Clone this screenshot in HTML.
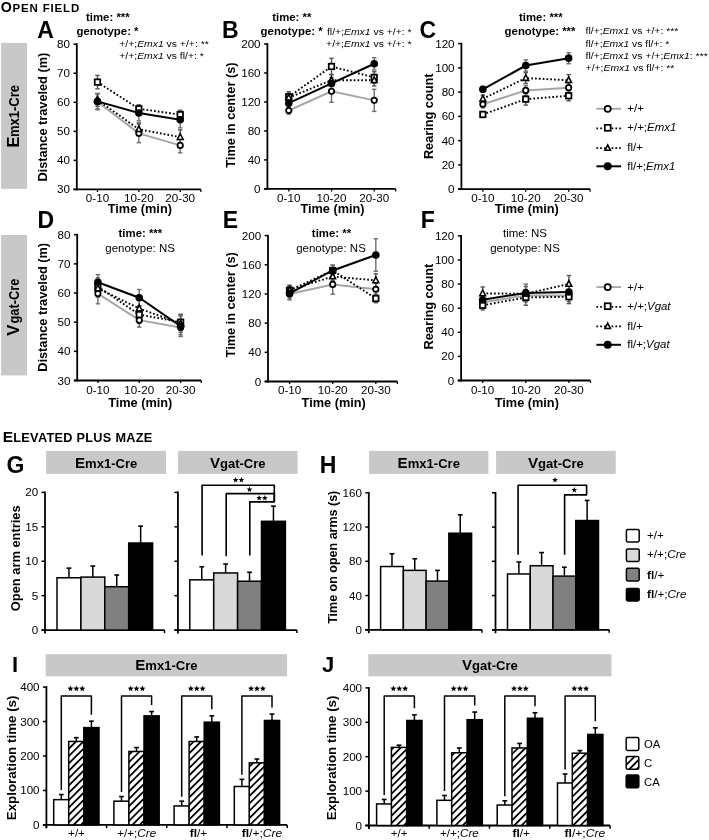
<!DOCTYPE html>
<html><head><meta charset="utf-8"><title>Figure</title>
<style>
html,body{margin:0;padding:0;background:#fff;width:709px;height:840px;overflow:hidden;}
svg{display:block;font-family:"Liberation Sans",sans-serif;}
text{font-family:"Liberation Sans",sans-serif;}
</style></head><body>
<svg width="709" height="840" viewBox="0 0 709 840" font-family="Liberation Sans, sans-serif"><defs><pattern id="hatch" patternUnits="userSpaceOnUse" width="5.2" height="5.2" patternTransform="rotate(45)"><rect width="5.2" height="5.2" fill="#fff"/><line x1="0" y1="0" x2="0" y2="5.2" stroke="#000" stroke-width="3.6"/></pattern><filter id="soft" x="0" y="0" width="1" height="1"><feGaussianBlur stdDeviation="0.35"/></filter></defs><rect width="709" height="840" fill="#fff"/><g filter="url(#soft)"><rect width="709" height="840" fill="#fff"/><text transform="translate(0.73,11.50) scale(1.000,1)" font-weight="bold"><tspan font-size="14.2" letter-spacing="0.82">O</tspan><tspan font-size="11.5" letter-spacing="0.82">PEN FIELD</tspan></text>
<text transform="translate(2.64,442.10) scale(1.000,1)" font-weight="bold"><tspan font-size="15.5" letter-spacing="0.3">E</tspan><tspan font-size="12.7" letter-spacing="0.3">LEVATED PLUS MAZE</tspan></text>
<line x1="76.80" y1="43.30" x2="76.80" y2="190.30" stroke="#000" stroke-width="1.8"/>
<line x1="73.50" y1="189.40" x2="76.80" y2="189.40" stroke="#000" stroke-width="1.5"/>
<text transform="translate(70.00,193.41) scale(1.030,1)" font-size="11.3" text-anchor="end">30</text>
<line x1="73.50" y1="160.36" x2="76.80" y2="160.36" stroke="#000" stroke-width="1.5"/>
<text transform="translate(70.00,164.37) scale(1.030,1)" font-size="11.3" text-anchor="end">40</text>
<line x1="73.50" y1="131.32" x2="76.80" y2="131.32" stroke="#000" stroke-width="1.5"/>
<text transform="translate(70.00,135.33) scale(1.030,1)" font-size="11.3" text-anchor="end">50</text>
<line x1="73.50" y1="102.28" x2="76.80" y2="102.28" stroke="#000" stroke-width="1.5"/>
<text transform="translate(70.00,106.29) scale(1.030,1)" font-size="11.3" text-anchor="end">60</text>
<line x1="73.50" y1="73.24" x2="76.80" y2="73.24" stroke="#000" stroke-width="1.5"/>
<text transform="translate(70.00,77.25) scale(1.030,1)" font-size="11.3" text-anchor="end">70</text>
<line x1="73.50" y1="44.20" x2="76.80" y2="44.20" stroke="#000" stroke-width="1.5"/>
<text transform="translate(70.00,48.21) scale(1.030,1)" font-size="11.3" text-anchor="end">80</text>
<line x1="73.50" y1="189.40" x2="200.90" y2="189.40" stroke="#000" stroke-width="1.8"/>
<line x1="97.48" y1="189.40" x2="97.48" y2="192.00" stroke="#000" stroke-width="1.3"/>
<line x1="138.85" y1="189.40" x2="138.85" y2="192.00" stroke="#000" stroke-width="1.3"/>
<line x1="180.22" y1="189.40" x2="180.22" y2="192.00" stroke="#000" stroke-width="1.3"/>
<line x1="200.90" y1="189.40" x2="200.90" y2="192.00" stroke="#000" stroke-width="1.3"/>
<text transform="translate(97.48,201.70) scale(1.030,1)" font-size="11.3" text-anchor="middle">0-10</text>
<text transform="translate(138.85,201.70) scale(1.030,1)" font-size="11.3" text-anchor="middle">10-20</text>
<text transform="translate(180.22,201.70) scale(1.030,1)" font-size="11.3" text-anchor="middle">20-30</text>
<text transform="translate(139.85,213.40) scale(1.020,1)" font-size="12.5" font-weight="bold" text-anchor="middle">Time (min)</text>
<text transform="translate(46.70,117.20) rotate(-90) scale(1.020,1)" font-size="12.5" font-weight="bold" text-anchor="middle">Distance traveled (m)</text>
<line x1="97.48" y1="93.57" x2="97.48" y2="109.83" stroke="#6e6e6e" stroke-width="1.4"/>
<line x1="95.28" y1="93.57" x2="99.68" y2="93.57" stroke="#6e6e6e" stroke-width="1.4"/>
<line x1="95.28" y1="109.83" x2="99.68" y2="109.83" stroke="#6e6e6e" stroke-width="1.4"/>
<line x1="138.85" y1="124.06" x2="138.85" y2="142.65" stroke="#6e6e6e" stroke-width="1.4"/>
<line x1="136.65" y1="124.06" x2="141.05" y2="124.06" stroke="#6e6e6e" stroke-width="1.4"/>
<line x1="136.65" y1="142.65" x2="141.05" y2="142.65" stroke="#6e6e6e" stroke-width="1.4"/>
<line x1="180.22" y1="138.00" x2="180.22" y2="152.81" stroke="#6e6e6e" stroke-width="1.4"/>
<line x1="178.02" y1="138.00" x2="182.42" y2="138.00" stroke="#6e6e6e" stroke-width="1.4"/>
<line x1="178.02" y1="152.81" x2="182.42" y2="152.81" stroke="#6e6e6e" stroke-width="1.4"/>
<line x1="97.48" y1="75.42" x2="97.48" y2="88.78" stroke="#555" stroke-width="1.4"/>
<line x1="95.28" y1="75.42" x2="99.68" y2="75.42" stroke="#555" stroke-width="1.4"/>
<line x1="95.28" y1="88.78" x2="99.68" y2="88.78" stroke="#555" stroke-width="1.4"/>
<line x1="138.85" y1="104.75" x2="138.85" y2="112.88" stroke="#555" stroke-width="1.4"/>
<line x1="136.65" y1="104.75" x2="141.05" y2="104.75" stroke="#555" stroke-width="1.4"/>
<line x1="136.65" y1="112.88" x2="141.05" y2="112.88" stroke="#555" stroke-width="1.4"/>
<line x1="180.22" y1="110.27" x2="180.22" y2="118.98" stroke="#555" stroke-width="1.4"/>
<line x1="178.02" y1="110.27" x2="182.42" y2="110.27" stroke="#555" stroke-width="1.4"/>
<line x1="178.02" y1="118.98" x2="182.42" y2="118.98" stroke="#555" stroke-width="1.4"/>
<line x1="97.48" y1="93.57" x2="97.48" y2="106.35" stroke="#555" stroke-width="1.4"/>
<line x1="95.28" y1="93.57" x2="99.68" y2="93.57" stroke="#555" stroke-width="1.4"/>
<line x1="95.28" y1="106.35" x2="99.68" y2="106.35" stroke="#555" stroke-width="1.4"/>
<line x1="138.85" y1="122.90" x2="138.85" y2="135.68" stroke="#555" stroke-width="1.4"/>
<line x1="136.65" y1="122.90" x2="141.05" y2="122.90" stroke="#555" stroke-width="1.4"/>
<line x1="136.65" y1="135.68" x2="141.05" y2="135.68" stroke="#555" stroke-width="1.4"/>
<line x1="180.22" y1="129.87" x2="180.22" y2="144.39" stroke="#555" stroke-width="1.4"/>
<line x1="178.02" y1="129.87" x2="182.42" y2="129.87" stroke="#555" stroke-width="1.4"/>
<line x1="178.02" y1="144.39" x2="182.42" y2="144.39" stroke="#555" stroke-width="1.4"/>
<line x1="97.48" y1="93.86" x2="97.48" y2="108.96" stroke="#6e6e6e" stroke-width="1.4"/>
<line x1="95.28" y1="93.86" x2="99.68" y2="93.86" stroke="#6e6e6e" stroke-width="1.4"/>
<line x1="95.28" y1="108.96" x2="99.68" y2="108.96" stroke="#6e6e6e" stroke-width="1.4"/>
<line x1="138.85" y1="105.18" x2="138.85" y2="120.87" stroke="#6e6e6e" stroke-width="1.4"/>
<line x1="136.65" y1="105.18" x2="141.05" y2="105.18" stroke="#6e6e6e" stroke-width="1.4"/>
<line x1="136.65" y1="120.87" x2="141.05" y2="120.87" stroke="#6e6e6e" stroke-width="1.4"/>
<line x1="180.22" y1="111.57" x2="180.22" y2="127.84" stroke="#6e6e6e" stroke-width="1.4"/>
<line x1="178.02" y1="111.57" x2="182.42" y2="111.57" stroke="#6e6e6e" stroke-width="1.4"/>
<line x1="178.02" y1="127.84" x2="182.42" y2="127.84" stroke="#6e6e6e" stroke-width="1.4"/>
<path d="M97.48,101.70 L138.85,133.35 L180.22,145.40" stroke="#a6a6a6" stroke-width="2.0" fill="none"/>
<path d="M97.48,82.10 L138.85,108.81 L180.22,114.62" stroke="#000" stroke-width="1.9" fill="none" stroke-dasharray="1.7,2.1"/>
<path d="M97.48,99.96 L138.85,129.29 L180.22,137.13" stroke="#000" stroke-width="1.9" fill="none" stroke-dasharray="1.7,2.1"/>
<path d="M97.48,101.41 L138.85,113.02 L180.22,119.70" stroke="#000" stroke-width="2.0" fill="none"/>
<circle cx="97.48" cy="101.70" r="2.70" fill="#fff" stroke="#000" stroke-width="1.75"/>
<circle cx="138.85" cy="133.35" r="2.70" fill="#fff" stroke="#000" stroke-width="1.75"/>
<circle cx="180.22" cy="145.40" r="2.70" fill="#fff" stroke="#000" stroke-width="1.75"/>
<rect x="94.73" y="79.35" width="5.50" height="5.50" fill="#fff" stroke="#000" stroke-width="1.75"/>
<rect x="136.10" y="106.06" width="5.50" height="5.50" fill="#fff" stroke="#000" stroke-width="1.75"/>
<rect x="177.47" y="111.87" width="5.50" height="5.50" fill="#fff" stroke="#000" stroke-width="1.75"/>
<path d="M97.48,96.56 L100.38,102.26 L94.58,102.26 Z" fill="#fff" stroke="#000" stroke-width="1.55" stroke-linejoin="miter"/>
<path d="M138.85,125.89 L141.75,131.59 L135.95,131.59 Z" fill="#fff" stroke="#000" stroke-width="1.55" stroke-linejoin="miter"/>
<path d="M180.22,133.73 L183.12,139.43 L177.32,139.43 Z" fill="#fff" stroke="#000" stroke-width="1.55" stroke-linejoin="miter"/>
<circle cx="97.48" cy="101.41" r="3.80" fill="#000"/>
<circle cx="138.85" cy="113.02" r="3.80" fill="#000"/>
<circle cx="180.22" cy="119.70" r="3.80" fill="#000"/>
<line x1="267.40" y1="43.10" x2="267.40" y2="189.80" stroke="#000" stroke-width="1.8"/>
<line x1="264.10" y1="188.90" x2="267.40" y2="188.90" stroke="#000" stroke-width="1.5"/>
<text transform="translate(260.60,192.91) scale(1.030,1)" font-size="11.3" text-anchor="end">0</text>
<line x1="264.10" y1="159.92" x2="267.40" y2="159.92" stroke="#000" stroke-width="1.5"/>
<text transform="translate(260.60,163.93) scale(1.030,1)" font-size="11.3" text-anchor="end">40</text>
<line x1="264.10" y1="130.94" x2="267.40" y2="130.94" stroke="#000" stroke-width="1.5"/>
<text transform="translate(260.60,134.95) scale(1.030,1)" font-size="11.3" text-anchor="end">80</text>
<line x1="264.10" y1="101.96" x2="267.40" y2="101.96" stroke="#000" stroke-width="1.5"/>
<text transform="translate(260.60,105.97) scale(1.030,1)" font-size="11.3" text-anchor="end">120</text>
<line x1="264.10" y1="72.98" x2="267.40" y2="72.98" stroke="#000" stroke-width="1.5"/>
<text transform="translate(260.60,76.99) scale(1.030,1)" font-size="11.3" text-anchor="end">160</text>
<line x1="264.10" y1="44.00" x2="267.40" y2="44.00" stroke="#000" stroke-width="1.5"/>
<text transform="translate(260.60,48.01) scale(1.030,1)" font-size="11.3" text-anchor="end">200</text>
<line x1="264.10" y1="188.90" x2="395.60" y2="188.90" stroke="#000" stroke-width="1.8"/>
<line x1="288.77" y1="188.90" x2="288.77" y2="191.50" stroke="#000" stroke-width="1.3"/>
<line x1="331.50" y1="188.90" x2="331.50" y2="191.50" stroke="#000" stroke-width="1.3"/>
<line x1="374.23" y1="188.90" x2="374.23" y2="191.50" stroke="#000" stroke-width="1.3"/>
<line x1="395.60" y1="188.90" x2="395.60" y2="191.50" stroke="#000" stroke-width="1.3"/>
<text transform="translate(288.77,201.70) scale(1.030,1)" font-size="11.3" text-anchor="middle">0-10</text>
<text transform="translate(331.50,201.70) scale(1.030,1)" font-size="11.3" text-anchor="middle">10-20</text>
<text transform="translate(374.23,201.70) scale(1.030,1)" font-size="11.3" text-anchor="middle">20-30</text>
<text transform="translate(332.50,213.40) scale(1.020,1)" font-size="12.5" font-weight="bold" text-anchor="middle">Time (min)</text>
<text transform="translate(235.10,115.10) rotate(-90) scale(1.020,1)" font-size="12.5" font-weight="bold" text-anchor="middle">Time in center (s)</text>
<line x1="288.77" y1="106.89" x2="288.77" y2="114.13" stroke="#6e6e6e" stroke-width="1.4"/>
<line x1="286.57" y1="106.89" x2="290.97" y2="106.89" stroke="#6e6e6e" stroke-width="1.4"/>
<line x1="286.57" y1="114.13" x2="290.97" y2="114.13" stroke="#6e6e6e" stroke-width="1.4"/>
<line x1="331.50" y1="80.30" x2="331.50" y2="102.32" stroke="#6e6e6e" stroke-width="1.4"/>
<line x1="329.30" y1="80.30" x2="333.70" y2="80.30" stroke="#6e6e6e" stroke-width="1.4"/>
<line x1="329.30" y1="102.32" x2="333.70" y2="102.32" stroke="#6e6e6e" stroke-width="1.4"/>
<line x1="374.23" y1="89.35" x2="374.23" y2="111.38" stroke="#6e6e6e" stroke-width="1.4"/>
<line x1="372.03" y1="89.35" x2="376.43" y2="89.35" stroke="#6e6e6e" stroke-width="1.4"/>
<line x1="372.03" y1="111.38" x2="376.43" y2="111.38" stroke="#6e6e6e" stroke-width="1.4"/>
<line x1="288.77" y1="91.74" x2="288.77" y2="101.89" stroke="#555" stroke-width="1.4"/>
<line x1="286.57" y1="91.74" x2="290.97" y2="91.74" stroke="#555" stroke-width="1.4"/>
<line x1="286.57" y1="101.89" x2="290.97" y2="101.89" stroke="#555" stroke-width="1.4"/>
<line x1="331.50" y1="58.27" x2="331.50" y2="74.65" stroke="#555" stroke-width="1.4"/>
<line x1="329.30" y1="58.27" x2="333.70" y2="58.27" stroke="#555" stroke-width="1.4"/>
<line x1="329.30" y1="74.65" x2="333.70" y2="74.65" stroke="#555" stroke-width="1.4"/>
<line x1="374.23" y1="71.68" x2="374.23" y2="83.27" stroke="#555" stroke-width="1.4"/>
<line x1="372.03" y1="71.68" x2="376.43" y2="71.68" stroke="#555" stroke-width="1.4"/>
<line x1="372.03" y1="83.27" x2="376.43" y2="83.27" stroke="#555" stroke-width="1.4"/>
<line x1="288.77" y1="93.34" x2="288.77" y2="102.03" stroke="#555" stroke-width="1.4"/>
<line x1="286.57" y1="93.34" x2="290.97" y2="93.34" stroke="#555" stroke-width="1.4"/>
<line x1="286.57" y1="102.03" x2="290.97" y2="102.03" stroke="#555" stroke-width="1.4"/>
<line x1="331.50" y1="74.43" x2="331.50" y2="86.02" stroke="#555" stroke-width="1.4"/>
<line x1="329.30" y1="74.43" x2="333.70" y2="74.43" stroke="#555" stroke-width="1.4"/>
<line x1="329.30" y1="86.02" x2="333.70" y2="86.02" stroke="#555" stroke-width="1.4"/>
<line x1="374.23" y1="74.43" x2="374.23" y2="86.02" stroke="#555" stroke-width="1.4"/>
<line x1="372.03" y1="74.43" x2="376.43" y2="74.43" stroke="#555" stroke-width="1.4"/>
<line x1="372.03" y1="86.02" x2="376.43" y2="86.02" stroke="#555" stroke-width="1.4"/>
<line x1="288.77" y1="98.84" x2="288.77" y2="107.54" stroke="#6e6e6e" stroke-width="1.4"/>
<line x1="286.57" y1="98.84" x2="290.97" y2="98.84" stroke="#6e6e6e" stroke-width="1.4"/>
<line x1="286.57" y1="107.54" x2="290.97" y2="107.54" stroke="#6e6e6e" stroke-width="1.4"/>
<line x1="331.50" y1="77.62" x2="331.50" y2="89.21" stroke="#6e6e6e" stroke-width="1.4"/>
<line x1="329.30" y1="77.62" x2="333.70" y2="77.62" stroke="#6e6e6e" stroke-width="1.4"/>
<line x1="329.30" y1="89.21" x2="333.70" y2="89.21" stroke="#6e6e6e" stroke-width="1.4"/>
<line x1="374.23" y1="57.69" x2="374.23" y2="69.86" stroke="#6e6e6e" stroke-width="1.4"/>
<line x1="372.03" y1="57.69" x2="376.43" y2="57.69" stroke="#6e6e6e" stroke-width="1.4"/>
<line x1="372.03" y1="69.86" x2="376.43" y2="69.86" stroke="#6e6e6e" stroke-width="1.4"/>
<path d="M288.77,110.51 L331.50,91.31 L374.23,100.37" stroke="#a6a6a6" stroke-width="2.0" fill="none"/>
<path d="M288.77,96.82 L331.50,66.46 L374.23,77.47" stroke="#000" stroke-width="1.9" fill="none" stroke-dasharray="1.7,2.1"/>
<path d="M288.77,97.69 L331.50,80.22 L374.23,80.22" stroke="#000" stroke-width="1.9" fill="none" stroke-dasharray="1.7,2.1"/>
<path d="M288.77,103.19 L331.50,83.41 L374.23,63.78" stroke="#000" stroke-width="2.0" fill="none"/>
<circle cx="288.77" cy="110.51" r="2.70" fill="#fff" stroke="#000" stroke-width="1.75"/>
<circle cx="331.50" cy="91.31" r="2.70" fill="#fff" stroke="#000" stroke-width="1.75"/>
<circle cx="374.23" cy="100.37" r="2.70" fill="#fff" stroke="#000" stroke-width="1.75"/>
<rect x="286.02" y="94.07" width="5.50" height="5.50" fill="#fff" stroke="#000" stroke-width="1.75"/>
<rect x="328.75" y="63.71" width="5.50" height="5.50" fill="#fff" stroke="#000" stroke-width="1.75"/>
<rect x="371.48" y="74.72" width="5.50" height="5.50" fill="#fff" stroke="#000" stroke-width="1.75"/>
<path d="M288.77,94.29 L291.67,99.99 L285.87,99.99 Z" fill="#fff" stroke="#000" stroke-width="1.55" stroke-linejoin="miter"/>
<path d="M331.50,76.82 L334.40,82.52 L328.60,82.52 Z" fill="#fff" stroke="#000" stroke-width="1.55" stroke-linejoin="miter"/>
<path d="M374.23,76.82 L377.13,82.52 L371.33,82.52 Z" fill="#fff" stroke="#000" stroke-width="1.55" stroke-linejoin="miter"/>
<circle cx="288.77" cy="103.19" r="3.80" fill="#000"/>
<circle cx="331.50" cy="83.41" r="3.80" fill="#000"/>
<circle cx="374.23" cy="63.78" r="3.80" fill="#000"/>
<line x1="461.40" y1="42.70" x2="461.40" y2="190.10" stroke="#000" stroke-width="1.8"/>
<line x1="458.10" y1="189.20" x2="461.40" y2="189.20" stroke="#000" stroke-width="1.5"/>
<text transform="translate(454.60,193.21) scale(1.030,1)" font-size="11.3" text-anchor="end">0</text>
<line x1="458.10" y1="164.93" x2="461.40" y2="164.93" stroke="#000" stroke-width="1.5"/>
<text transform="translate(454.60,168.94) scale(1.030,1)" font-size="11.3" text-anchor="end">20</text>
<line x1="458.10" y1="140.67" x2="461.40" y2="140.67" stroke="#000" stroke-width="1.5"/>
<text transform="translate(454.60,144.68) scale(1.030,1)" font-size="11.3" text-anchor="end">40</text>
<line x1="458.10" y1="116.40" x2="461.40" y2="116.40" stroke="#000" stroke-width="1.5"/>
<text transform="translate(454.60,120.41) scale(1.030,1)" font-size="11.3" text-anchor="end">60</text>
<line x1="458.10" y1="92.13" x2="461.40" y2="92.13" stroke="#000" stroke-width="1.5"/>
<text transform="translate(454.60,96.14) scale(1.030,1)" font-size="11.3" text-anchor="end">80</text>
<line x1="458.10" y1="67.87" x2="461.40" y2="67.87" stroke="#000" stroke-width="1.5"/>
<text transform="translate(454.60,71.88) scale(1.030,1)" font-size="11.3" text-anchor="end">100</text>
<line x1="458.10" y1="43.60" x2="461.40" y2="43.60" stroke="#000" stroke-width="1.5"/>
<text transform="translate(454.60,47.61) scale(1.030,1)" font-size="11.3" text-anchor="end">120</text>
<line x1="458.10" y1="189.20" x2="590.10" y2="189.20" stroke="#000" stroke-width="1.8"/>
<line x1="482.85" y1="189.20" x2="482.85" y2="191.80" stroke="#000" stroke-width="1.3"/>
<line x1="525.75" y1="189.20" x2="525.75" y2="191.80" stroke="#000" stroke-width="1.3"/>
<line x1="568.65" y1="189.20" x2="568.65" y2="191.80" stroke="#000" stroke-width="1.3"/>
<line x1="590.10" y1="189.20" x2="590.10" y2="191.80" stroke="#000" stroke-width="1.3"/>
<text transform="translate(482.85,201.70) scale(1.030,1)" font-size="11.3" text-anchor="middle">0-10</text>
<text transform="translate(525.75,201.70) scale(1.030,1)" font-size="11.3" text-anchor="middle">10-20</text>
<text transform="translate(568.65,201.70) scale(1.030,1)" font-size="11.3" text-anchor="middle">20-30</text>
<text transform="translate(526.75,213.40) scale(1.020,1)" font-size="12.5" font-weight="bold" text-anchor="middle">Time (min)</text>
<text transform="translate(432.70,116.30) rotate(-90) scale(1.020,1)" font-size="12.5" font-weight="bold" text-anchor="middle">Rearing count</text>
<line x1="482.85" y1="100.63" x2="482.85" y2="107.91" stroke="#6e6e6e" stroke-width="1.4"/>
<line x1="480.65" y1="100.63" x2="485.05" y2="100.63" stroke="#6e6e6e" stroke-width="1.4"/>
<line x1="480.65" y1="107.91" x2="485.05" y2="107.91" stroke="#6e6e6e" stroke-width="1.4"/>
<line x1="525.75" y1="85.58" x2="525.75" y2="95.29" stroke="#6e6e6e" stroke-width="1.4"/>
<line x1="523.55" y1="85.58" x2="527.95" y2="85.58" stroke="#6e6e6e" stroke-width="1.4"/>
<line x1="523.55" y1="95.29" x2="527.95" y2="95.29" stroke="#6e6e6e" stroke-width="1.4"/>
<line x1="568.65" y1="82.79" x2="568.65" y2="92.50" stroke="#6e6e6e" stroke-width="1.4"/>
<line x1="566.45" y1="82.79" x2="570.85" y2="82.79" stroke="#6e6e6e" stroke-width="1.4"/>
<line x1="566.45" y1="92.50" x2="570.85" y2="92.50" stroke="#6e6e6e" stroke-width="1.4"/>
<line x1="482.85" y1="111.43" x2="482.85" y2="117.49" stroke="#555" stroke-width="1.4"/>
<line x1="480.65" y1="111.43" x2="485.05" y2="111.43" stroke="#555" stroke-width="1.4"/>
<line x1="480.65" y1="117.49" x2="485.05" y2="117.49" stroke="#555" stroke-width="1.4"/>
<line x1="525.75" y1="93.23" x2="525.75" y2="105.12" stroke="#555" stroke-width="1.4"/>
<line x1="523.55" y1="93.23" x2="527.95" y2="93.23" stroke="#555" stroke-width="1.4"/>
<line x1="523.55" y1="105.12" x2="527.95" y2="105.12" stroke="#555" stroke-width="1.4"/>
<line x1="568.65" y1="90.68" x2="568.65" y2="100.87" stroke="#555" stroke-width="1.4"/>
<line x1="566.45" y1="90.68" x2="570.85" y2="90.68" stroke="#555" stroke-width="1.4"/>
<line x1="566.45" y1="100.87" x2="570.85" y2="100.87" stroke="#555" stroke-width="1.4"/>
<line x1="482.85" y1="95.17" x2="482.85" y2="102.45" stroke="#555" stroke-width="1.4"/>
<line x1="480.65" y1="95.17" x2="485.05" y2="95.17" stroke="#555" stroke-width="1.4"/>
<line x1="480.65" y1="102.45" x2="485.05" y2="102.45" stroke="#555" stroke-width="1.4"/>
<line x1="525.75" y1="72.60" x2="525.75" y2="83.52" stroke="#555" stroke-width="1.4"/>
<line x1="523.55" y1="72.60" x2="527.95" y2="72.60" stroke="#555" stroke-width="1.4"/>
<line x1="523.55" y1="83.52" x2="527.95" y2="83.52" stroke="#555" stroke-width="1.4"/>
<line x1="568.65" y1="74.54" x2="568.65" y2="85.95" stroke="#555" stroke-width="1.4"/>
<line x1="566.45" y1="74.54" x2="570.85" y2="74.54" stroke="#555" stroke-width="1.4"/>
<line x1="566.45" y1="85.95" x2="570.85" y2="85.95" stroke="#555" stroke-width="1.4"/>
<line x1="482.85" y1="86.31" x2="482.85" y2="92.38" stroke="#6e6e6e" stroke-width="1.4"/>
<line x1="480.65" y1="86.31" x2="485.05" y2="86.31" stroke="#6e6e6e" stroke-width="1.4"/>
<line x1="480.65" y1="92.38" x2="485.05" y2="92.38" stroke="#6e6e6e" stroke-width="1.4"/>
<line x1="525.75" y1="59.86" x2="525.75" y2="71.26" stroke="#6e6e6e" stroke-width="1.4"/>
<line x1="523.55" y1="59.86" x2="527.95" y2="59.86" stroke="#6e6e6e" stroke-width="1.4"/>
<line x1="523.55" y1="71.26" x2="527.95" y2="71.26" stroke="#6e6e6e" stroke-width="1.4"/>
<line x1="568.65" y1="52.58" x2="568.65" y2="63.74" stroke="#6e6e6e" stroke-width="1.4"/>
<line x1="566.45" y1="52.58" x2="570.85" y2="52.58" stroke="#6e6e6e" stroke-width="1.4"/>
<line x1="566.45" y1="63.74" x2="570.85" y2="63.74" stroke="#6e6e6e" stroke-width="1.4"/>
<path d="M482.85,104.27 L525.75,90.43 L568.65,87.64" stroke="#a6a6a6" stroke-width="2.0" fill="none"/>
<path d="M482.85,114.46 L525.75,99.17 L568.65,95.77" stroke="#000" stroke-width="1.9" fill="none" stroke-dasharray="1.7,2.1"/>
<path d="M482.85,98.81 L525.75,78.06 L568.65,80.24" stroke="#000" stroke-width="1.9" fill="none" stroke-dasharray="1.7,2.1"/>
<path d="M482.85,89.34 L525.75,65.56 L568.65,58.16" stroke="#000" stroke-width="2.0" fill="none"/>
<circle cx="482.85" cy="104.27" r="2.70" fill="#fff" stroke="#000" stroke-width="1.75"/>
<circle cx="525.75" cy="90.43" r="2.70" fill="#fff" stroke="#000" stroke-width="1.75"/>
<circle cx="568.65" cy="87.64" r="2.70" fill="#fff" stroke="#000" stroke-width="1.75"/>
<rect x="480.10" y="111.71" width="5.50" height="5.50" fill="#fff" stroke="#000" stroke-width="1.75"/>
<rect x="523.00" y="96.42" width="5.50" height="5.50" fill="#fff" stroke="#000" stroke-width="1.75"/>
<rect x="565.90" y="93.02" width="5.50" height="5.50" fill="#fff" stroke="#000" stroke-width="1.75"/>
<path d="M482.85,95.41 L485.75,101.11 L479.95,101.11 Z" fill="#fff" stroke="#000" stroke-width="1.55" stroke-linejoin="miter"/>
<path d="M525.75,74.66 L528.65,80.36 L522.85,80.36 Z" fill="#fff" stroke="#000" stroke-width="1.55" stroke-linejoin="miter"/>
<path d="M568.65,76.84 L571.55,82.54 L565.75,82.54 Z" fill="#fff" stroke="#000" stroke-width="1.55" stroke-linejoin="miter"/>
<circle cx="482.85" cy="89.34" r="3.80" fill="#000"/>
<circle cx="525.75" cy="65.56" r="3.80" fill="#000"/>
<circle cx="568.65" cy="58.16" r="3.80" fill="#000"/>
<line x1="77.20" y1="233.80" x2="77.20" y2="381.40" stroke="#000" stroke-width="1.8"/>
<line x1="73.90" y1="380.50" x2="77.20" y2="380.50" stroke="#000" stroke-width="1.5"/>
<text transform="translate(70.40,384.51) scale(1.030,1)" font-size="11.3" text-anchor="end">30</text>
<line x1="73.90" y1="351.34" x2="77.20" y2="351.34" stroke="#000" stroke-width="1.5"/>
<text transform="translate(70.40,355.35) scale(1.030,1)" font-size="11.3" text-anchor="end">40</text>
<line x1="73.90" y1="322.18" x2="77.20" y2="322.18" stroke="#000" stroke-width="1.5"/>
<text transform="translate(70.40,326.19) scale(1.030,1)" font-size="11.3" text-anchor="end">50</text>
<line x1="73.90" y1="293.02" x2="77.20" y2="293.02" stroke="#000" stroke-width="1.5"/>
<text transform="translate(70.40,297.03) scale(1.030,1)" font-size="11.3" text-anchor="end">60</text>
<line x1="73.90" y1="263.86" x2="77.20" y2="263.86" stroke="#000" stroke-width="1.5"/>
<text transform="translate(70.40,267.87) scale(1.030,1)" font-size="11.3" text-anchor="end">70</text>
<line x1="73.90" y1="234.70" x2="77.20" y2="234.70" stroke="#000" stroke-width="1.5"/>
<text transform="translate(70.40,238.71) scale(1.030,1)" font-size="11.3" text-anchor="end">80</text>
<line x1="73.90" y1="380.50" x2="201.30" y2="380.50" stroke="#000" stroke-width="1.8"/>
<line x1="97.88" y1="380.50" x2="97.88" y2="383.10" stroke="#000" stroke-width="1.3"/>
<line x1="139.25" y1="380.50" x2="139.25" y2="383.10" stroke="#000" stroke-width="1.3"/>
<line x1="180.62" y1="380.50" x2="180.62" y2="383.10" stroke="#000" stroke-width="1.3"/>
<line x1="201.30" y1="380.50" x2="201.30" y2="383.10" stroke="#000" stroke-width="1.3"/>
<text transform="translate(97.88,393.80) scale(1.030,1)" font-size="11.3" text-anchor="middle">0-10</text>
<text transform="translate(139.25,393.80) scale(1.030,1)" font-size="11.3" text-anchor="middle">10-20</text>
<text transform="translate(180.62,393.80) scale(1.030,1)" font-size="11.3" text-anchor="middle">20-30</text>
<text transform="translate(140.25,407.10) scale(1.020,1)" font-size="12.5" font-weight="bold" text-anchor="middle">Time (min)</text>
<text transform="translate(47.40,307.30) rotate(-90) scale(1.020,1)" font-size="12.5" font-weight="bold" text-anchor="middle">Distance traveled (m)</text>
<line x1="97.88" y1="283.40" x2="97.88" y2="303.81" stroke="#6e6e6e" stroke-width="1.4"/>
<line x1="95.68" y1="283.40" x2="100.08" y2="283.40" stroke="#6e6e6e" stroke-width="1.4"/>
<line x1="95.68" y1="303.81" x2="100.08" y2="303.81" stroke="#6e6e6e" stroke-width="1.4"/>
<line x1="139.25" y1="313.14" x2="139.25" y2="327.14" stroke="#6e6e6e" stroke-width="1.4"/>
<line x1="137.05" y1="313.14" x2="141.45" y2="313.14" stroke="#6e6e6e" stroke-width="1.4"/>
<line x1="137.05" y1="327.14" x2="141.45" y2="327.14" stroke="#6e6e6e" stroke-width="1.4"/>
<line x1="180.62" y1="320.14" x2="180.62" y2="334.72" stroke="#6e6e6e" stroke-width="1.4"/>
<line x1="178.42" y1="320.14" x2="182.82" y2="320.14" stroke="#6e6e6e" stroke-width="1.4"/>
<line x1="178.42" y1="334.72" x2="182.82" y2="334.72" stroke="#6e6e6e" stroke-width="1.4"/>
<line x1="97.88" y1="277.86" x2="97.88" y2="295.35" stroke="#555" stroke-width="1.4"/>
<line x1="95.68" y1="277.86" x2="100.08" y2="277.86" stroke="#555" stroke-width="1.4"/>
<line x1="95.68" y1="295.35" x2="100.08" y2="295.35" stroke="#555" stroke-width="1.4"/>
<line x1="139.25" y1="305.85" x2="139.25" y2="323.35" stroke="#555" stroke-width="1.4"/>
<line x1="137.05" y1="305.85" x2="141.45" y2="305.85" stroke="#555" stroke-width="1.4"/>
<line x1="137.05" y1="323.35" x2="141.45" y2="323.35" stroke="#555" stroke-width="1.4"/>
<line x1="180.62" y1="314.31" x2="180.62" y2="330.05" stroke="#555" stroke-width="1.4"/>
<line x1="178.42" y1="314.31" x2="182.82" y2="314.31" stroke="#555" stroke-width="1.4"/>
<line x1="178.42" y1="330.05" x2="182.82" y2="330.05" stroke="#555" stroke-width="1.4"/>
<line x1="97.88" y1="279.61" x2="97.88" y2="297.10" stroke="#555" stroke-width="1.4"/>
<line x1="95.68" y1="279.61" x2="100.08" y2="279.61" stroke="#555" stroke-width="1.4"/>
<line x1="95.68" y1="297.10" x2="100.08" y2="297.10" stroke="#555" stroke-width="1.4"/>
<line x1="139.25" y1="299.73" x2="139.25" y2="317.22" stroke="#555" stroke-width="1.4"/>
<line x1="137.05" y1="299.73" x2="141.45" y2="299.73" stroke="#555" stroke-width="1.4"/>
<line x1="137.05" y1="317.22" x2="141.45" y2="317.22" stroke="#555" stroke-width="1.4"/>
<line x1="180.62" y1="314.89" x2="180.62" y2="332.39" stroke="#555" stroke-width="1.4"/>
<line x1="178.42" y1="314.89" x2="182.82" y2="314.89" stroke="#555" stroke-width="1.4"/>
<line x1="178.42" y1="332.39" x2="182.82" y2="332.39" stroke="#555" stroke-width="1.4"/>
<line x1="97.88" y1="274.65" x2="97.88" y2="289.81" stroke="#6e6e6e" stroke-width="1.4"/>
<line x1="95.68" y1="274.65" x2="100.08" y2="274.65" stroke="#6e6e6e" stroke-width="1.4"/>
<line x1="95.68" y1="289.81" x2="100.08" y2="289.81" stroke="#6e6e6e" stroke-width="1.4"/>
<line x1="139.25" y1="289.52" x2="139.25" y2="305.85" stroke="#6e6e6e" stroke-width="1.4"/>
<line x1="137.05" y1="289.52" x2="141.45" y2="289.52" stroke="#6e6e6e" stroke-width="1.4"/>
<line x1="137.05" y1="305.85" x2="141.45" y2="305.85" stroke="#6e6e6e" stroke-width="1.4"/>
<line x1="180.62" y1="316.06" x2="180.62" y2="336.47" stroke="#6e6e6e" stroke-width="1.4"/>
<line x1="178.42" y1="316.06" x2="182.82" y2="316.06" stroke="#6e6e6e" stroke-width="1.4"/>
<line x1="178.42" y1="336.47" x2="182.82" y2="336.47" stroke="#6e6e6e" stroke-width="1.4"/>
<path d="M97.88,293.60 L139.25,320.14 L180.62,327.43" stroke="#a6a6a6" stroke-width="2.0" fill="none"/>
<path d="M97.88,286.60 L139.25,314.60 L180.62,322.18" stroke="#000" stroke-width="1.9" fill="none" stroke-dasharray="1.7,2.1"/>
<path d="M97.88,288.35 L139.25,308.47 L180.62,323.64" stroke="#000" stroke-width="1.9" fill="none" stroke-dasharray="1.7,2.1"/>
<path d="M97.88,282.23 L139.25,297.69 L180.62,326.26" stroke="#000" stroke-width="2.0" fill="none"/>
<circle cx="97.88" cy="293.60" r="2.70" fill="#fff" stroke="#000" stroke-width="1.75"/>
<circle cx="139.25" cy="320.14" r="2.70" fill="#fff" stroke="#000" stroke-width="1.75"/>
<circle cx="180.62" cy="327.43" r="2.70" fill="#fff" stroke="#000" stroke-width="1.75"/>
<rect x="95.13" y="283.85" width="5.50" height="5.50" fill="#fff" stroke="#000" stroke-width="1.75"/>
<rect x="136.50" y="311.85" width="5.50" height="5.50" fill="#fff" stroke="#000" stroke-width="1.75"/>
<rect x="177.87" y="319.43" width="5.50" height="5.50" fill="#fff" stroke="#000" stroke-width="1.75"/>
<path d="M97.88,284.95 L100.78,290.65 L94.98,290.65 Z" fill="#fff" stroke="#000" stroke-width="1.55" stroke-linejoin="miter"/>
<path d="M139.25,305.07 L142.15,310.77 L136.35,310.77 Z" fill="#fff" stroke="#000" stroke-width="1.55" stroke-linejoin="miter"/>
<path d="M180.62,320.24 L183.52,325.94 L177.72,325.94 Z" fill="#fff" stroke="#000" stroke-width="1.55" stroke-linejoin="miter"/>
<circle cx="97.88" cy="282.23" r="3.80" fill="#000"/>
<circle cx="139.25" cy="297.69" r="3.80" fill="#000"/>
<circle cx="180.62" cy="326.26" r="3.80" fill="#000"/>
<line x1="268.00" y1="234.70" x2="268.00" y2="382.40" stroke="#000" stroke-width="1.8"/>
<line x1="264.70" y1="381.50" x2="268.00" y2="381.50" stroke="#000" stroke-width="1.5"/>
<text transform="translate(261.20,385.51) scale(1.030,1)" font-size="11.3" text-anchor="end">0</text>
<line x1="264.70" y1="352.32" x2="268.00" y2="352.32" stroke="#000" stroke-width="1.5"/>
<text transform="translate(261.20,356.33) scale(1.030,1)" font-size="11.3" text-anchor="end">40</text>
<line x1="264.70" y1="323.14" x2="268.00" y2="323.14" stroke="#000" stroke-width="1.5"/>
<text transform="translate(261.20,327.15) scale(1.030,1)" font-size="11.3" text-anchor="end">80</text>
<line x1="264.70" y1="293.96" x2="268.00" y2="293.96" stroke="#000" stroke-width="1.5"/>
<text transform="translate(261.20,297.97) scale(1.030,1)" font-size="11.3" text-anchor="end">120</text>
<line x1="264.70" y1="264.78" x2="268.00" y2="264.78" stroke="#000" stroke-width="1.5"/>
<text transform="translate(261.20,268.79) scale(1.030,1)" font-size="11.3" text-anchor="end">160</text>
<line x1="264.70" y1="235.60" x2="268.00" y2="235.60" stroke="#000" stroke-width="1.5"/>
<text transform="translate(261.20,239.61) scale(1.030,1)" font-size="11.3" text-anchor="end">200</text>
<line x1="264.70" y1="381.50" x2="397.40" y2="381.50" stroke="#000" stroke-width="1.8"/>
<line x1="289.57" y1="381.50" x2="289.57" y2="384.10" stroke="#000" stroke-width="1.3"/>
<line x1="332.70" y1="381.50" x2="332.70" y2="384.10" stroke="#000" stroke-width="1.3"/>
<line x1="375.83" y1="381.50" x2="375.83" y2="384.10" stroke="#000" stroke-width="1.3"/>
<line x1="397.40" y1="381.50" x2="397.40" y2="384.10" stroke="#000" stroke-width="1.3"/>
<text transform="translate(289.57,393.80) scale(1.030,1)" font-size="11.3" text-anchor="middle">0-10</text>
<text transform="translate(332.70,393.80) scale(1.030,1)" font-size="11.3" text-anchor="middle">10-20</text>
<text transform="translate(375.83,393.80) scale(1.030,1)" font-size="11.3" text-anchor="middle">20-30</text>
<text transform="translate(333.70,407.10) scale(1.020,1)" font-size="12.5" font-weight="bold" text-anchor="middle">Time (min)</text>
<text transform="translate(235.10,304.80) rotate(-90) scale(1.020,1)" font-size="12.5" font-weight="bold" text-anchor="middle">Time in center (s)</text>
<line x1="289.57" y1="289.58" x2="289.57" y2="298.34" stroke="#6e6e6e" stroke-width="1.4"/>
<line x1="287.37" y1="289.58" x2="291.77" y2="289.58" stroke="#6e6e6e" stroke-width="1.4"/>
<line x1="287.37" y1="298.34" x2="291.77" y2="298.34" stroke="#6e6e6e" stroke-width="1.4"/>
<line x1="332.70" y1="274.63" x2="332.70" y2="294.18" stroke="#6e6e6e" stroke-width="1.4"/>
<line x1="330.50" y1="274.63" x2="334.90" y2="274.63" stroke="#6e6e6e" stroke-width="1.4"/>
<line x1="330.50" y1="294.18" x2="334.90" y2="294.18" stroke="#6e6e6e" stroke-width="1.4"/>
<line x1="375.83" y1="283.38" x2="375.83" y2="295.05" stroke="#6e6e6e" stroke-width="1.4"/>
<line x1="373.63" y1="283.38" x2="378.03" y2="283.38" stroke="#6e6e6e" stroke-width="1.4"/>
<line x1="373.63" y1="295.05" x2="378.03" y2="295.05" stroke="#6e6e6e" stroke-width="1.4"/>
<line x1="289.57" y1="285.21" x2="289.57" y2="295.42" stroke="#555" stroke-width="1.4"/>
<line x1="287.37" y1="285.21" x2="291.77" y2="285.21" stroke="#555" stroke-width="1.4"/>
<line x1="287.37" y1="295.42" x2="291.77" y2="295.42" stroke="#555" stroke-width="1.4"/>
<line x1="332.70" y1="265.36" x2="332.70" y2="275.58" stroke="#555" stroke-width="1.4"/>
<line x1="330.50" y1="265.36" x2="334.90" y2="265.36" stroke="#555" stroke-width="1.4"/>
<line x1="330.50" y1="275.58" x2="334.90" y2="275.58" stroke="#555" stroke-width="1.4"/>
<line x1="375.83" y1="294.25" x2="375.83" y2="302.71" stroke="#555" stroke-width="1.4"/>
<line x1="373.63" y1="294.25" x2="378.03" y2="294.25" stroke="#555" stroke-width="1.4"/>
<line x1="373.63" y1="302.71" x2="378.03" y2="302.71" stroke="#555" stroke-width="1.4"/>
<line x1="289.57" y1="285.64" x2="289.57" y2="294.40" stroke="#555" stroke-width="1.4"/>
<line x1="287.37" y1="285.64" x2="291.77" y2="285.64" stroke="#555" stroke-width="1.4"/>
<line x1="287.37" y1="294.40" x2="291.77" y2="294.40" stroke="#555" stroke-width="1.4"/>
<line x1="332.70" y1="272.15" x2="332.70" y2="280.90" stroke="#555" stroke-width="1.4"/>
<line x1="330.50" y1="272.15" x2="334.90" y2="272.15" stroke="#555" stroke-width="1.4"/>
<line x1="330.50" y1="280.90" x2="334.90" y2="280.90" stroke="#555" stroke-width="1.4"/>
<line x1="375.83" y1="273.83" x2="375.83" y2="286.96" stroke="#555" stroke-width="1.4"/>
<line x1="373.63" y1="273.83" x2="378.03" y2="273.83" stroke="#555" stroke-width="1.4"/>
<line x1="373.63" y1="286.96" x2="378.03" y2="286.96" stroke="#555" stroke-width="1.4"/>
<line x1="289.57" y1="286.81" x2="289.57" y2="299.94" stroke="#6e6e6e" stroke-width="1.4"/>
<line x1="287.37" y1="286.81" x2="291.77" y2="286.81" stroke="#6e6e6e" stroke-width="1.4"/>
<line x1="287.37" y1="299.94" x2="291.77" y2="299.94" stroke="#6e6e6e" stroke-width="1.4"/>
<line x1="332.70" y1="265.07" x2="332.70" y2="275.87" stroke="#6e6e6e" stroke-width="1.4"/>
<line x1="330.50" y1="265.07" x2="334.90" y2="265.07" stroke="#6e6e6e" stroke-width="1.4"/>
<line x1="330.50" y1="275.87" x2="334.90" y2="275.87" stroke="#6e6e6e" stroke-width="1.4"/>
<line x1="375.83" y1="238.74" x2="375.83" y2="271.27" stroke="#6e6e6e" stroke-width="1.4"/>
<line x1="373.63" y1="238.74" x2="378.03" y2="238.74" stroke="#6e6e6e" stroke-width="1.4"/>
<line x1="373.63" y1="271.27" x2="378.03" y2="271.27" stroke="#6e6e6e" stroke-width="1.4"/>
<path d="M289.57,293.96 L332.70,284.40 L375.83,289.22" stroke="#a6a6a6" stroke-width="2.0" fill="none"/>
<path d="M289.57,290.31 L332.70,270.47 L375.83,298.48" stroke="#000" stroke-width="1.9" fill="none" stroke-dasharray="1.7,2.1"/>
<path d="M289.57,290.02 L332.70,276.52 L375.83,280.39" stroke="#000" stroke-width="1.9" fill="none" stroke-dasharray="1.7,2.1"/>
<path d="M289.57,293.38 L332.70,270.47 L375.83,255.00" stroke="#000" stroke-width="2.0" fill="none"/>
<circle cx="289.57" cy="293.96" r="2.70" fill="#fff" stroke="#000" stroke-width="1.75"/>
<circle cx="332.70" cy="284.40" r="2.70" fill="#fff" stroke="#000" stroke-width="1.75"/>
<circle cx="375.83" cy="289.22" r="2.70" fill="#fff" stroke="#000" stroke-width="1.75"/>
<rect x="286.82" y="287.56" width="5.50" height="5.50" fill="#fff" stroke="#000" stroke-width="1.75"/>
<rect x="329.95" y="267.72" width="5.50" height="5.50" fill="#fff" stroke="#000" stroke-width="1.75"/>
<rect x="373.08" y="295.73" width="5.50" height="5.50" fill="#fff" stroke="#000" stroke-width="1.75"/>
<path d="M289.57,286.62 L292.47,292.32 L286.67,292.32 Z" fill="#fff" stroke="#000" stroke-width="1.55" stroke-linejoin="miter"/>
<path d="M332.70,273.12 L335.60,278.82 L329.80,278.82 Z" fill="#fff" stroke="#000" stroke-width="1.55" stroke-linejoin="miter"/>
<path d="M375.83,276.99 L378.73,282.69 L372.93,282.69 Z" fill="#fff" stroke="#000" stroke-width="1.55" stroke-linejoin="miter"/>
<circle cx="289.57" cy="293.38" r="3.80" fill="#000"/>
<circle cx="332.70" cy="270.47" r="3.80" fill="#000"/>
<circle cx="375.83" cy="255.00" r="3.80" fill="#000"/>
<line x1="461.10" y1="235.00" x2="461.10" y2="381.40" stroke="#000" stroke-width="1.8"/>
<line x1="457.80" y1="380.50" x2="461.10" y2="380.50" stroke="#000" stroke-width="1.5"/>
<text transform="translate(454.30,384.51) scale(1.030,1)" font-size="11.3" text-anchor="end">0</text>
<line x1="457.80" y1="356.40" x2="461.10" y2="356.40" stroke="#000" stroke-width="1.5"/>
<text transform="translate(454.30,360.41) scale(1.030,1)" font-size="11.3" text-anchor="end">20</text>
<line x1="457.80" y1="332.30" x2="461.10" y2="332.30" stroke="#000" stroke-width="1.5"/>
<text transform="translate(454.30,336.31) scale(1.030,1)" font-size="11.3" text-anchor="end">40</text>
<line x1="457.80" y1="308.20" x2="461.10" y2="308.20" stroke="#000" stroke-width="1.5"/>
<text transform="translate(454.30,312.21) scale(1.030,1)" font-size="11.3" text-anchor="end">60</text>
<line x1="457.80" y1="284.10" x2="461.10" y2="284.10" stroke="#000" stroke-width="1.5"/>
<text transform="translate(454.30,288.11) scale(1.030,1)" font-size="11.3" text-anchor="end">80</text>
<line x1="457.80" y1="260.00" x2="461.10" y2="260.00" stroke="#000" stroke-width="1.5"/>
<text transform="translate(454.30,264.01) scale(1.030,1)" font-size="11.3" text-anchor="end">100</text>
<line x1="457.80" y1="235.90" x2="461.10" y2="235.90" stroke="#000" stroke-width="1.5"/>
<text transform="translate(454.30,239.91) scale(1.030,1)" font-size="11.3" text-anchor="end">120</text>
<line x1="457.80" y1="380.50" x2="590.50" y2="380.50" stroke="#000" stroke-width="1.8"/>
<line x1="482.67" y1="380.50" x2="482.67" y2="383.10" stroke="#000" stroke-width="1.3"/>
<line x1="525.80" y1="380.50" x2="525.80" y2="383.10" stroke="#000" stroke-width="1.3"/>
<line x1="568.93" y1="380.50" x2="568.93" y2="383.10" stroke="#000" stroke-width="1.3"/>
<line x1="590.50" y1="380.50" x2="590.50" y2="383.10" stroke="#000" stroke-width="1.3"/>
<text transform="translate(482.67,393.80) scale(1.030,1)" font-size="11.3" text-anchor="middle">0-10</text>
<text transform="translate(525.80,393.80) scale(1.030,1)" font-size="11.3" text-anchor="middle">10-20</text>
<text transform="translate(568.93,393.80) scale(1.030,1)" font-size="11.3" text-anchor="middle">20-30</text>
<text transform="translate(526.80,407.10) scale(1.020,1)" font-size="12.5" font-weight="bold" text-anchor="middle">Time (min)</text>
<text transform="translate(432.70,306.60) rotate(-90) scale(1.020,1)" font-size="12.5" font-weight="bold" text-anchor="middle">Rearing count</text>
<line x1="482.67" y1="297.36" x2="482.67" y2="307.00" stroke="#6e6e6e" stroke-width="1.4"/>
<line x1="480.47" y1="297.36" x2="484.87" y2="297.36" stroke="#6e6e6e" stroke-width="1.4"/>
<line x1="480.47" y1="307.00" x2="484.87" y2="307.00" stroke="#6e6e6e" stroke-width="1.4"/>
<line x1="525.80" y1="289.52" x2="525.80" y2="301.57" stroke="#6e6e6e" stroke-width="1.4"/>
<line x1="523.60" y1="289.52" x2="528.00" y2="289.52" stroke="#6e6e6e" stroke-width="1.4"/>
<line x1="523.60" y1="301.57" x2="528.00" y2="301.57" stroke="#6e6e6e" stroke-width="1.4"/>
<line x1="568.93" y1="289.52" x2="568.93" y2="301.57" stroke="#6e6e6e" stroke-width="1.4"/>
<line x1="566.73" y1="289.52" x2="571.13" y2="289.52" stroke="#6e6e6e" stroke-width="1.4"/>
<line x1="566.73" y1="301.57" x2="571.13" y2="301.57" stroke="#6e6e6e" stroke-width="1.4"/>
<line x1="482.67" y1="300.73" x2="482.67" y2="309.89" stroke="#555" stroke-width="1.4"/>
<line x1="480.47" y1="300.73" x2="484.87" y2="300.73" stroke="#555" stroke-width="1.4"/>
<line x1="480.47" y1="309.89" x2="484.87" y2="309.89" stroke="#555" stroke-width="1.4"/>
<line x1="525.80" y1="289.64" x2="525.80" y2="305.31" stroke="#555" stroke-width="1.4"/>
<line x1="523.60" y1="289.64" x2="528.00" y2="289.64" stroke="#555" stroke-width="1.4"/>
<line x1="523.60" y1="305.31" x2="528.00" y2="305.31" stroke="#555" stroke-width="1.4"/>
<line x1="568.93" y1="289.88" x2="568.93" y2="303.62" stroke="#555" stroke-width="1.4"/>
<line x1="566.73" y1="289.88" x2="571.13" y2="289.88" stroke="#555" stroke-width="1.4"/>
<line x1="566.73" y1="303.62" x2="571.13" y2="303.62" stroke="#555" stroke-width="1.4"/>
<line x1="482.67" y1="286.99" x2="482.67" y2="299.76" stroke="#555" stroke-width="1.4"/>
<line x1="480.47" y1="286.99" x2="484.87" y2="286.99" stroke="#555" stroke-width="1.4"/>
<line x1="480.47" y1="299.76" x2="484.87" y2="299.76" stroke="#555" stroke-width="1.4"/>
<line x1="525.80" y1="286.51" x2="525.80" y2="300.97" stroke="#555" stroke-width="1.4"/>
<line x1="523.60" y1="286.51" x2="528.00" y2="286.51" stroke="#555" stroke-width="1.4"/>
<line x1="523.60" y1="300.97" x2="528.00" y2="300.97" stroke="#555" stroke-width="1.4"/>
<line x1="568.93" y1="275.54" x2="568.93" y2="292.41" stroke="#555" stroke-width="1.4"/>
<line x1="566.73" y1="275.54" x2="571.13" y2="275.54" stroke="#555" stroke-width="1.4"/>
<line x1="566.73" y1="292.41" x2="571.13" y2="292.41" stroke="#555" stroke-width="1.4"/>
<line x1="482.67" y1="294.94" x2="482.67" y2="304.58" stroke="#6e6e6e" stroke-width="1.4"/>
<line x1="480.47" y1="294.94" x2="484.87" y2="294.94" stroke="#6e6e6e" stroke-width="1.4"/>
<line x1="480.47" y1="304.58" x2="484.87" y2="304.58" stroke="#6e6e6e" stroke-width="1.4"/>
<line x1="525.80" y1="284.10" x2="525.80" y2="301.69" stroke="#6e6e6e" stroke-width="1.4"/>
<line x1="523.60" y1="284.10" x2="528.00" y2="284.10" stroke="#6e6e6e" stroke-width="1.4"/>
<line x1="523.60" y1="301.69" x2="528.00" y2="301.69" stroke="#6e6e6e" stroke-width="1.4"/>
<line x1="568.93" y1="286.03" x2="568.93" y2="298.08" stroke="#6e6e6e" stroke-width="1.4"/>
<line x1="566.73" y1="286.03" x2="571.13" y2="286.03" stroke="#6e6e6e" stroke-width="1.4"/>
<line x1="566.73" y1="298.08" x2="571.13" y2="298.08" stroke="#6e6e6e" stroke-width="1.4"/>
<path d="M482.67,302.18 L525.80,295.55 L568.93,295.55" stroke="#a6a6a6" stroke-width="2.0" fill="none"/>
<path d="M482.67,305.31 L525.80,297.48 L568.93,296.75" stroke="#000" stroke-width="1.9" fill="none" stroke-dasharray="1.7,2.1"/>
<path d="M482.67,293.38 L525.80,293.74 L568.93,283.98" stroke="#000" stroke-width="1.9" fill="none" stroke-dasharray="1.7,2.1"/>
<path d="M482.67,299.76 L525.80,292.90 L568.93,292.05" stroke="#000" stroke-width="2.0" fill="none"/>
<circle cx="482.67" cy="302.18" r="2.70" fill="#fff" stroke="#000" stroke-width="1.75"/>
<circle cx="525.80" cy="295.55" r="2.70" fill="#fff" stroke="#000" stroke-width="1.75"/>
<circle cx="568.93" cy="295.55" r="2.70" fill="#fff" stroke="#000" stroke-width="1.75"/>
<rect x="479.92" y="302.56" width="5.50" height="5.50" fill="#fff" stroke="#000" stroke-width="1.75"/>
<rect x="523.05" y="294.73" width="5.50" height="5.50" fill="#fff" stroke="#000" stroke-width="1.75"/>
<rect x="566.18" y="294.00" width="5.50" height="5.50" fill="#fff" stroke="#000" stroke-width="1.75"/>
<path d="M482.67,289.98 L485.57,295.68 L479.77,295.68 Z" fill="#fff" stroke="#000" stroke-width="1.55" stroke-linejoin="miter"/>
<path d="M525.80,290.34 L528.70,296.04 L522.90,296.04 Z" fill="#fff" stroke="#000" stroke-width="1.55" stroke-linejoin="miter"/>
<path d="M568.93,280.58 L571.83,286.28 L566.03,286.28 Z" fill="#fff" stroke="#000" stroke-width="1.55" stroke-linejoin="miter"/>
<circle cx="482.67" cy="299.76" r="3.80" fill="#000"/>
<circle cx="525.80" cy="292.90" r="3.80" fill="#000"/>
<circle cx="568.93" cy="292.05" r="3.80" fill="#000"/>
<text transform="translate(37.30,37.60)" font-size="23" font-weight="bold">A</text>
<text transform="translate(222.00,37.60)" font-size="23" font-weight="bold">B</text>
<text transform="translate(419.60,37.60)" font-size="23" font-weight="bold">C</text>
<text transform="translate(37.40,227.80)" font-size="23" font-weight="bold">D</text>
<text transform="translate(222.80,227.80)" font-size="23" font-weight="bold">E</text>
<text transform="translate(420.80,227.80)" font-size="23" font-weight="bold">F</text>
<text transform="translate(6.40,472.80)" font-size="23" font-weight="bold">G</text>
<text transform="translate(319.80,472.80)" font-size="23" font-weight="bold">H</text>
<text transform="translate(12.00,671.60)" font-size="22" font-weight="bold">I</text>
<text transform="translate(322.10,671.60)" font-size="22" font-weight="bold">J</text>
<rect x="1.10" y="42.90" width="25.90" height="145.90" fill="#c8c8c8"/>
<rect x="1.10" y="235.00" width="25.90" height="140.40" fill="#c8c8c8"/>
<text transform="translate(19.10,147.60) rotate(-90)" font-size="16.4" font-weight="bold">E</text>
<text transform="translate(19.10,137.10) rotate(-90) scale(0.946,1)" font-size="13.8" font-weight="bold">mx1-Cre</text>
<text transform="translate(19.00,335.70) rotate(-90)" font-size="16.8" font-weight="bold">V</text>
<text transform="translate(19.00,323.60) rotate(-90) scale(0.935,1)" font-size="13.8" font-weight="bold">gat-Cre</text>
<text transform="translate(86.00,20.80) scale(1.075,1)" font-size="10.6" font-weight="bold">time: ***</text>
<text transform="translate(76.50,35.00) scale(1.075,1)" font-size="10.6" font-weight="bold">genotype: *</text>
<text transform="translate(119.20,47.10) scale(1.155,1)" font-size="9.0">+/+;<tspan font-style="italic">Emx1</tspan> vs +/+: **</text>
<text transform="translate(119.20,59.40) scale(1.155,1)" font-size="9.0">+/+;<tspan font-style="italic">Emx1</tspan> vs fl/+: *</text>
<text transform="translate(272.20,20.90) scale(1.075,1)" font-size="10.6" font-weight="bold">time: **</text>
<text transform="translate(260.60,35.00) scale(1.075,1)" font-size="10.6" font-weight="bold">genotype: *</text>
<text transform="translate(411.60,34.60) scale(1.155,1)" font-size="9.0" text-anchor="end">fl/+;<tspan font-style="italic">Emx1</tspan> vs +/+: *</text>
<text transform="translate(411.60,46.90) scale(1.155,1)" font-size="9.0" text-anchor="end">+/+;<tspan font-style="italic">Emx1</tspan> vs +/+: *</text>
<text transform="translate(519.00,20.80) scale(1.075,1)" font-size="10.6" font-weight="bold">time: ***</text>
<text transform="translate(504.60,35.00) scale(1.075,1)" font-size="10.6" font-weight="bold">genotype: ***</text>
<text transform="translate(585.60,34.40) scale(1.155,1)" font-size="9.0">fl/+;<tspan font-style="italic">Emx1</tspan> vs +/+: ***</text>
<text transform="translate(585.60,46.75) scale(1.155,1)" font-size="9.0">fl/+;<tspan font-style="italic">Emx1</tspan> vs fl/+: *</text>
<text transform="translate(585.60,59.10) scale(1.155,1)" font-size="9.0">fl/+;<tspan font-style="italic">Emx1</tspan> vs +/+;<tspan font-style="italic">Emx1</tspan>: ***</text>
<text transform="translate(585.60,71.45) scale(1.155,1)" font-size="9.0">+/+;<tspan font-style="italic">Emx1</tspan> vs fl/+: **</text>
<text transform="translate(140.40,237.40) scale(1.075,1)" font-size="10.6" font-weight="bold" text-anchor="middle">time: ***</text>
<text transform="translate(140.10,251.60) scale(1.085,1)" font-size="10.6" text-anchor="middle">genotype: NS</text>
<text transform="translate(331.50,236.60) scale(1.075,1)" font-size="10.6" font-weight="bold" text-anchor="middle">time: **</text>
<text transform="translate(331.00,252.00) scale(1.085,1)" font-size="10.6" text-anchor="middle">genotype: NS</text>
<text transform="translate(525.00,237.20) scale(1.085,1)" font-size="10.6" text-anchor="middle">time: NS</text>
<text transform="translate(525.00,251.60) scale(1.085,1)" font-size="10.6" text-anchor="middle">genotype: NS</text>
<line x1="596.40" y1="108.80" x2="621.00" y2="108.80" stroke="#a6a6a6" stroke-width="1.8"/>
<circle cx="607.70" cy="108.80" r="3.05" fill="#fff" stroke="#000" stroke-width="1.75"/>
<text transform="translate(627.30,112.40) scale(1.080,1)" font-size="10.6">+/+</text>
<line x1="596.40" y1="128.40" x2="621.00" y2="128.40" stroke="#000" stroke-width="1.8" stroke-dasharray="1.7,2.1"/>
<rect x="604.76" y="124.86" width="5.89" height="5.89" fill="#fff" stroke="#000" stroke-width="1.75"/>
<text transform="translate(627.30,130.80) scale(1.080,1)" font-size="10.6">+/+;<tspan font-style="italic">Emx1</tspan></text>
<line x1="596.40" y1="148.10" x2="621.00" y2="148.10" stroke="#000" stroke-width="1.8" stroke-dasharray="1.7,2.1"/>
<path d="M607.70,144.87 L610.46,150.28 L604.95,150.28 Z" fill="#fff" stroke="#000" stroke-width="1.55" stroke-linejoin="miter"/>
<text transform="translate(627.30,151.00) scale(1.080,1)" font-size="10.6">fl/+</text>
<line x1="596.40" y1="166.30" x2="621.00" y2="166.30" stroke="#000" stroke-width="2.0"/>
<circle cx="607.70" cy="166.30" r="3.99" fill="#000"/>
<text transform="translate(627.30,169.90) scale(1.080,1)" font-size="10.6">fl/+;<tspan font-style="italic">Emx1</tspan></text>
<line x1="596.40" y1="287.10" x2="621.00" y2="287.10" stroke="#a6a6a6" stroke-width="1.8"/>
<circle cx="607.70" cy="287.10" r="3.05" fill="#fff" stroke="#000" stroke-width="1.75"/>
<text transform="translate(627.30,290.90) scale(1.080,1)" font-size="10.6">+/+</text>
<line x1="596.40" y1="306.80" x2="621.00" y2="306.80" stroke="#000" stroke-width="1.8" stroke-dasharray="1.7,2.1"/>
<rect x="604.76" y="303.26" width="5.89" height="5.89" fill="#fff" stroke="#000" stroke-width="1.75"/>
<text transform="translate(627.30,309.80) scale(1.080,1)" font-size="10.6">+/+;<tspan font-style="italic">Vgat</tspan></text>
<line x1="596.40" y1="326.30" x2="621.00" y2="326.30" stroke="#000" stroke-width="1.8" stroke-dasharray="1.7,2.1"/>
<path d="M607.70,323.07 L610.46,328.49 L604.95,328.49 Z" fill="#fff" stroke="#000" stroke-width="1.55" stroke-linejoin="miter"/>
<text transform="translate(627.30,329.70) scale(1.080,1)" font-size="10.6">fl/+</text>
<line x1="596.40" y1="344.80" x2="621.00" y2="344.80" stroke="#000" stroke-width="2.0"/>
<circle cx="607.70" cy="344.80" r="3.99" fill="#000"/>
<text transform="translate(627.30,348.30) scale(1.080,1)" font-size="10.6">fl/+;<tspan font-style="italic">Vgat</tspan></text>
<rect x="46.20" y="450.90" width="119.80" height="23.00" fill="#c8c8c8"/>
<text transform="translate(106.10,467.65) scale(0.975,1)" text-anchor="middle" font-weight="bold"><tspan font-size="15.5">E</tspan><tspan font-size="13.4">mx1-Cre</tspan></text>
<rect x="177.90" y="450.90" width="119.70" height="23.00" fill="#c8c8c8"/>
<text transform="translate(237.75,467.65) scale(0.975,1)" text-anchor="middle" font-weight="bold"><tspan font-size="15.5">V</tspan><tspan font-size="13.4">gat-Cre</tspan></text>
<rect x="369.10" y="450.90" width="119.30" height="23.00" fill="#c8c8c8"/>
<text transform="translate(428.75,467.65) scale(0.975,1)" text-anchor="middle" font-weight="bold"><tspan font-size="15.5">E</tspan><tspan font-size="13.4">mx1-Cre</tspan></text>
<rect x="496.10" y="450.90" width="119.60" height="23.00" fill="#c8c8c8"/>
<text transform="translate(555.90,467.65) scale(0.975,1)" text-anchor="middle" font-weight="bold"><tspan font-size="15.5">V</tspan><tspan font-size="13.4">gat-Cre</tspan></text>
<rect x="45.70" y="654.20" width="241.40" height="22.10" fill="#c8c8c8"/>
<text transform="translate(166.40,670.05) scale(0.975,1)" text-anchor="middle" font-weight="bold"><tspan font-size="15.5">E</tspan><tspan font-size="13.4">mx1-Cre</tspan></text>
<rect x="368.30" y="654.20" width="243.20" height="22.10" fill="#c8c8c8"/>
<text transform="translate(489.90,670.05) scale(0.975,1)" text-anchor="middle" font-weight="bold"><tspan font-size="15.5">V</tspan><tspan font-size="13.4">gat-Cre</tspan></text>
<line x1="45.00" y1="491.50" x2="45.00" y2="633.50" stroke="#000" stroke-width="1.8"/>
<line x1="41.50" y1="630.10" x2="45.00" y2="630.10" stroke="#000" stroke-width="1.5"/>
<text transform="translate(38.20,634.11) scale(1.030,1)" font-size="11.3" text-anchor="end">0</text>
<line x1="41.50" y1="595.67" x2="45.00" y2="595.67" stroke="#000" stroke-width="1.5"/>
<text transform="translate(38.20,599.69) scale(1.030,1)" font-size="11.3" text-anchor="end">5</text>
<line x1="41.50" y1="561.25" x2="45.00" y2="561.25" stroke="#000" stroke-width="1.5"/>
<text transform="translate(38.20,565.26) scale(1.030,1)" font-size="11.3" text-anchor="end">10</text>
<line x1="41.50" y1="526.83" x2="45.00" y2="526.83" stroke="#000" stroke-width="1.5"/>
<text transform="translate(38.20,530.84) scale(1.030,1)" font-size="11.3" text-anchor="end">15</text>
<line x1="41.50" y1="492.40" x2="45.00" y2="492.40" stroke="#000" stroke-width="1.5"/>
<text transform="translate(38.20,496.41) scale(1.030,1)" font-size="11.3" text-anchor="end">20</text>
<line x1="41.50" y1="630.10" x2="164.50" y2="630.10" stroke="#000" stroke-width="1.8"/>
<line x1="164.50" y1="630.10" x2="164.50" y2="633.10" stroke="#000" stroke-width="1.5"/>
<line x1="68.95" y1="568.13" x2="68.95" y2="577.77" stroke="#000" stroke-width="1.5"/>
<line x1="66.55" y1="568.13" x2="71.35" y2="568.13" stroke="#000" stroke-width="1.6"/>
<rect x="57.00" y="577.77" width="23.90" height="52.33" fill="#fff" stroke="#000" stroke-width="1.5"/>
<line x1="92.85" y1="566.07" x2="92.85" y2="577.09" stroke="#000" stroke-width="1.5"/>
<line x1="90.45" y1="566.07" x2="95.25" y2="566.07" stroke="#000" stroke-width="1.6"/>
<rect x="80.90" y="577.09" width="23.90" height="53.01" fill="#d9d9d9" stroke="#000" stroke-width="1.5"/>
<line x1="116.75" y1="575.02" x2="116.75" y2="586.72" stroke="#000" stroke-width="1.5"/>
<line x1="114.35" y1="575.02" x2="119.15" y2="575.02" stroke="#000" stroke-width="1.6"/>
<rect x="104.80" y="586.72" width="23.90" height="43.38" fill="#808080" stroke="#000" stroke-width="1.5"/>
<line x1="140.65" y1="526.14" x2="140.65" y2="543.00" stroke="#000" stroke-width="1.5"/>
<line x1="138.25" y1="526.14" x2="143.05" y2="526.14" stroke="#000" stroke-width="1.6"/>
<rect x="128.70" y="543.00" width="23.90" height="87.10" fill="#000" stroke="#000" stroke-width="1.5"/>
<line x1="177.90" y1="491.50" x2="177.90" y2="633.50" stroke="#000" stroke-width="1.8"/>
<line x1="174.40" y1="630.10" x2="177.90" y2="630.10" stroke="#000" stroke-width="1.5"/>
<line x1="174.40" y1="595.67" x2="177.90" y2="595.67" stroke="#000" stroke-width="1.5"/>
<line x1="174.40" y1="561.25" x2="177.90" y2="561.25" stroke="#000" stroke-width="1.5"/>
<line x1="174.40" y1="526.83" x2="177.90" y2="526.83" stroke="#000" stroke-width="1.5"/>
<line x1="174.40" y1="492.40" x2="177.90" y2="492.40" stroke="#000" stroke-width="1.5"/>
<line x1="174.40" y1="630.10" x2="296.90" y2="630.10" stroke="#000" stroke-width="1.8"/>
<line x1="296.90" y1="630.10" x2="296.90" y2="633.10" stroke="#000" stroke-width="1.5"/>
<line x1="201.75" y1="566.76" x2="201.75" y2="579.84" stroke="#000" stroke-width="1.5"/>
<line x1="199.35" y1="566.76" x2="204.15" y2="566.76" stroke="#000" stroke-width="1.6"/>
<rect x="189.80" y="579.84" width="23.90" height="50.26" fill="#fff" stroke="#000" stroke-width="1.5"/>
<line x1="225.65" y1="564.00" x2="225.65" y2="572.95" stroke="#000" stroke-width="1.5"/>
<line x1="223.25" y1="564.00" x2="228.05" y2="564.00" stroke="#000" stroke-width="1.6"/>
<rect x="213.70" y="572.95" width="23.90" height="57.15" fill="#d9d9d9" stroke="#000" stroke-width="1.5"/>
<line x1="249.55" y1="572.27" x2="249.55" y2="581.22" stroke="#000" stroke-width="1.5"/>
<line x1="247.15" y1="572.27" x2="251.95" y2="572.27" stroke="#000" stroke-width="1.6"/>
<rect x="237.60" y="581.22" width="23.90" height="48.88" fill="#808080" stroke="#000" stroke-width="1.5"/>
<line x1="273.45" y1="506.17" x2="273.45" y2="521.32" stroke="#000" stroke-width="1.5"/>
<line x1="271.05" y1="506.17" x2="275.85" y2="506.17" stroke="#000" stroke-width="1.6"/>
<rect x="261.50" y="521.32" width="23.90" height="108.78" fill="#000" stroke="#000" stroke-width="1.5"/>
<text transform="translate(20.00,558.30) rotate(-90) scale(1.030,1)" font-size="12.5" font-weight="bold" text-anchor="middle">Open arm entries</text>
<line x1="368.80" y1="491.90" x2="368.80" y2="633.20" stroke="#000" stroke-width="1.8"/>
<line x1="365.30" y1="629.80" x2="368.80" y2="629.80" stroke="#000" stroke-width="1.5"/>
<text transform="translate(362.00,633.81) scale(1.030,1)" font-size="11.3" text-anchor="end">0</text>
<line x1="365.30" y1="595.55" x2="368.80" y2="595.55" stroke="#000" stroke-width="1.5"/>
<text transform="translate(362.00,599.56) scale(1.030,1)" font-size="11.3" text-anchor="end">40</text>
<line x1="365.30" y1="561.30" x2="368.80" y2="561.30" stroke="#000" stroke-width="1.5"/>
<text transform="translate(362.00,565.31) scale(1.030,1)" font-size="11.3" text-anchor="end">80</text>
<line x1="365.30" y1="527.05" x2="368.80" y2="527.05" stroke="#000" stroke-width="1.5"/>
<text transform="translate(362.00,531.06) scale(1.030,1)" font-size="11.3" text-anchor="end">120</text>
<line x1="365.30" y1="492.80" x2="368.80" y2="492.80" stroke="#000" stroke-width="1.5"/>
<text transform="translate(362.00,496.81) scale(1.030,1)" font-size="11.3" text-anchor="end">160</text>
<line x1="365.30" y1="629.80" x2="482.00" y2="629.80" stroke="#000" stroke-width="1.8"/>
<line x1="482.00" y1="629.80" x2="482.00" y2="632.80" stroke="#000" stroke-width="1.5"/>
<line x1="391.98" y1="553.76" x2="391.98" y2="566.52" stroke="#000" stroke-width="1.5"/>
<line x1="389.58" y1="553.76" x2="394.38" y2="553.76" stroke="#000" stroke-width="1.6"/>
<rect x="380.60" y="566.52" width="22.75" height="63.28" fill="#fff" stroke="#000" stroke-width="1.5"/>
<line x1="414.73" y1="558.73" x2="414.73" y2="570.38" stroke="#000" stroke-width="1.5"/>
<line x1="412.33" y1="558.73" x2="417.12" y2="558.73" stroke="#000" stroke-width="1.6"/>
<rect x="403.35" y="570.38" width="22.75" height="59.42" fill="#d9d9d9" stroke="#000" stroke-width="1.5"/>
<line x1="437.48" y1="570.38" x2="437.48" y2="581.08" stroke="#000" stroke-width="1.5"/>
<line x1="435.08" y1="570.38" x2="439.88" y2="570.38" stroke="#000" stroke-width="1.6"/>
<rect x="426.10" y="581.08" width="22.75" height="48.72" fill="#808080" stroke="#000" stroke-width="1.5"/>
<line x1="460.23" y1="514.81" x2="460.23" y2="533.22" stroke="#000" stroke-width="1.5"/>
<line x1="457.83" y1="514.81" x2="462.62" y2="514.81" stroke="#000" stroke-width="1.6"/>
<rect x="448.85" y="533.22" width="22.75" height="96.58" fill="#000" stroke="#000" stroke-width="1.5"/>
<line x1="495.50" y1="491.90" x2="495.50" y2="633.20" stroke="#000" stroke-width="1.8"/>
<line x1="492.00" y1="629.80" x2="495.50" y2="629.80" stroke="#000" stroke-width="1.5"/>
<line x1="492.00" y1="595.55" x2="495.50" y2="595.55" stroke="#000" stroke-width="1.5"/>
<line x1="492.00" y1="561.30" x2="495.50" y2="561.30" stroke="#000" stroke-width="1.5"/>
<line x1="492.00" y1="527.05" x2="495.50" y2="527.05" stroke="#000" stroke-width="1.5"/>
<line x1="492.00" y1="492.80" x2="495.50" y2="492.80" stroke="#000" stroke-width="1.5"/>
<line x1="492.00" y1="629.80" x2="609.20" y2="629.80" stroke="#000" stroke-width="1.8"/>
<line x1="609.20" y1="629.80" x2="609.20" y2="632.80" stroke="#000" stroke-width="1.5"/>
<line x1="518.88" y1="561.99" x2="518.88" y2="573.97" stroke="#000" stroke-width="1.5"/>
<line x1="516.48" y1="561.99" x2="521.27" y2="561.99" stroke="#000" stroke-width="1.6"/>
<rect x="507.50" y="573.97" width="22.75" height="55.83" fill="#fff" stroke="#000" stroke-width="1.5"/>
<line x1="541.62" y1="552.57" x2="541.62" y2="565.75" stroke="#000" stroke-width="1.5"/>
<line x1="539.23" y1="552.57" x2="544.02" y2="552.57" stroke="#000" stroke-width="1.6"/>
<rect x="530.25" y="565.75" width="22.75" height="64.05" fill="#d9d9d9" stroke="#000" stroke-width="1.5"/>
<line x1="564.38" y1="567.21" x2="564.38" y2="576.11" stroke="#000" stroke-width="1.5"/>
<line x1="561.98" y1="567.21" x2="566.77" y2="567.21" stroke="#000" stroke-width="1.6"/>
<rect x="553.00" y="576.11" width="22.75" height="53.69" fill="#808080" stroke="#000" stroke-width="1.5"/>
<line x1="587.12" y1="500.42" x2="587.12" y2="520.54" stroke="#000" stroke-width="1.5"/>
<line x1="584.73" y1="500.42" x2="589.52" y2="500.42" stroke="#000" stroke-width="1.6"/>
<rect x="575.75" y="520.54" width="22.75" height="109.26" fill="#000" stroke="#000" stroke-width="1.5"/>
<text transform="translate(336.90,557.30) rotate(-90)" font-size="12.5" font-weight="bold" text-anchor="middle">Time on open arms (s)</text>
<path d="M202.10,555.50 L202.10,485.20 L274.30,485.20 L274.30,501.40" stroke="#000" stroke-width="1.6" fill="none" stroke-linejoin="round"/>
<path d="M226.20,556.20 L226.20,493.60 L274.30,493.60 L274.30,501.40" stroke="#000" stroke-width="1.6" fill="none" stroke-linejoin="round"/>
<path d="M249.80,555.50 L249.80,501.90 L274.30,501.90 L274.30,501.40" stroke="#000" stroke-width="1.6" fill="none" stroke-linejoin="round"/>
<polygon points="235.65,477.05 236.43,478.93 238.46,479.09 236.91,480.41 237.38,482.39 235.65,481.33 233.92,482.39 234.39,480.41 232.84,479.09 234.87,478.93" fill="#000"/>
<polygon points="241.35,477.05 242.13,478.93 244.16,479.09 242.61,480.41 243.08,482.39 241.35,481.33 239.62,482.39 240.09,480.41 238.54,479.09 240.57,478.93" fill="#000"/>
<polygon points="249.50,486.55 250.28,488.43 252.31,488.59 250.76,489.91 251.23,491.89 249.50,490.83 247.77,491.89 248.24,489.91 246.69,488.59 248.72,488.43" fill="#000"/>
<polygon points="259.15,495.05 259.93,496.93 261.96,497.09 260.41,498.41 260.88,500.39 259.15,499.33 257.42,500.39 257.89,498.41 256.34,497.09 258.37,496.93" fill="#000"/>
<polygon points="264.85,495.05 265.63,496.93 267.66,497.09 266.11,498.41 266.58,500.39 264.85,499.33 263.12,500.39 263.59,498.41 262.04,497.09 264.07,496.93" fill="#000"/>
<path d="M518.10,554.70 L518.10,485.20 L586.60,485.20 L586.60,489.10" stroke="#000" stroke-width="1.6" fill="none" stroke-linejoin="round"/>
<path d="M564.60,554.70 L564.60,494.90 L586.60,494.90 L586.60,489.10" stroke="#000" stroke-width="1.6" fill="none" stroke-linejoin="round"/>
<polygon points="555.00,477.05 555.78,478.93 557.81,479.09 556.26,480.41 556.73,482.39 555.00,481.33 553.27,482.39 553.74,480.41 552.19,479.09 554.22,478.93" fill="#000"/>
<polygon points="574.30,487.05 575.08,488.93 577.11,489.09 575.56,490.41 576.03,492.39 574.30,491.33 572.57,492.39 573.04,490.41 571.49,489.09 573.52,488.93" fill="#000"/>
<rect x="626.40" y="529.40" width="12.80" height="12.60" rx="1.4" fill="#fff" stroke="#000" stroke-width="1.5"/>
<text transform="translate(647.00,539.40) scale(1.030,1)" font-size="11.4">+/+</text>
<rect x="626.40" y="548.90" width="12.80" height="12.60" rx="1.4" fill="#d9d9d9" stroke="#000" stroke-width="1.5"/>
<text transform="translate(647.00,558.40) scale(1.030,1)" font-size="11.4">+/+;<tspan font-style="italic">Cre</tspan></text>
<rect x="626.40" y="568.30" width="12.80" height="12.60" rx="1.4" fill="#808080" stroke="#000" stroke-width="1.5"/>
<text transform="translate(647.00,578.70) scale(1.030,1)" font-size="11.4"><tspan font-weight="bold">fl</tspan>/+</text>
<rect x="626.40" y="588.40" width="12.80" height="12.60" rx="1.4" fill="#000" stroke="#000" stroke-width="1.5"/>
<text transform="translate(647.00,597.60) scale(1.030,1)" font-size="11.4"><tspan font-weight="bold">fl</tspan>/+;<tspan font-style="italic">Cre</tspan></text>
<line x1="46.40" y1="686.20" x2="46.40" y2="828.30" stroke="#000" stroke-width="1.8"/>
<line x1="42.90" y1="824.90" x2="46.40" y2="824.90" stroke="#000" stroke-width="1.5"/>
<text transform="translate(39.60,828.91) scale(1.030,1)" font-size="11.3" text-anchor="end">0</text>
<line x1="42.90" y1="790.45" x2="46.40" y2="790.45" stroke="#000" stroke-width="1.5"/>
<text transform="translate(39.60,794.46) scale(1.030,1)" font-size="11.3" text-anchor="end">100</text>
<line x1="42.90" y1="756.00" x2="46.40" y2="756.00" stroke="#000" stroke-width="1.5"/>
<text transform="translate(39.60,760.01) scale(1.030,1)" font-size="11.3" text-anchor="end">200</text>
<line x1="42.90" y1="721.55" x2="46.40" y2="721.55" stroke="#000" stroke-width="1.5"/>
<text transform="translate(39.60,725.56) scale(1.030,1)" font-size="11.3" text-anchor="end">300</text>
<line x1="42.90" y1="687.10" x2="46.40" y2="687.10" stroke="#000" stroke-width="1.5"/>
<text transform="translate(39.60,691.11) scale(1.030,1)" font-size="11.3" text-anchor="end">400</text>
<line x1="42.90" y1="824.90" x2="287.20" y2="824.90" stroke="#000" stroke-width="1.8"/>
<line x1="46.40" y1="824.90" x2="46.40" y2="828.10" stroke="#000" stroke-width="1.5"/>
<line x1="106.60" y1="824.90" x2="106.60" y2="828.10" stroke="#000" stroke-width="1.5"/>
<line x1="166.80" y1="824.90" x2="166.80" y2="828.10" stroke="#000" stroke-width="1.5"/>
<line x1="227.00" y1="824.90" x2="227.00" y2="828.10" stroke="#000" stroke-width="1.5"/>
<line x1="287.20" y1="824.90" x2="287.20" y2="828.10" stroke="#000" stroke-width="1.5"/>
<line x1="61.30" y1="794.55" x2="61.30" y2="799.65" stroke="#000" stroke-width="1.5"/>
<line x1="58.90" y1="794.55" x2="63.70" y2="794.55" stroke="#000" stroke-width="1.6"/>
<line x1="76.30" y1="737.67" x2="76.30" y2="741.46" stroke="#000" stroke-width="1.5"/>
<line x1="73.90" y1="737.67" x2="78.70" y2="737.67" stroke="#000" stroke-width="1.6"/>
<line x1="91.40" y1="721.17" x2="91.40" y2="727.58" stroke="#000" stroke-width="1.5"/>
<line x1="89.00" y1="721.17" x2="93.80" y2="721.17" stroke="#000" stroke-width="1.6"/>
<rect x="53.70" y="799.65" width="15.20" height="25.25" fill="#fff" stroke="#000" stroke-width="1.5"/>
<rect x="68.70" y="741.46" width="15.20" height="83.44" fill="url(#hatch)" stroke="#000" stroke-width="1.5"/>
<rect x="83.80" y="727.58" width="15.20" height="97.32" fill="#000" stroke="#000" stroke-width="1.5"/>
<path d="M61.30,790.05 L61.30,696.00 L91.40,696.00 L91.40,714.67" stroke="#000" stroke-width="1.5" fill="none" stroke-linejoin="round"/>
<polygon points="70.45,685.60 71.27,687.57 73.40,687.74 71.78,689.13 72.27,691.21 70.45,690.10 68.63,691.21 69.12,689.13 67.50,687.74 69.63,687.57" fill="#000"/>
<polygon points="76.35,685.60 77.17,687.57 79.30,687.74 77.68,689.13 78.17,691.21 76.35,690.10 74.53,691.21 75.02,689.13 73.40,687.74 75.53,687.57" fill="#000"/>
<polygon points="82.25,685.60 83.07,687.57 85.20,687.74 83.58,689.13 84.07,691.21 82.25,690.10 80.43,691.21 80.92,689.13 79.30,687.74 81.43,687.57" fill="#000"/>
<text transform="translate(76.50,837.40) scale(1.030,1)" font-size="11.3" text-anchor="middle">+/+</text>
<line x1="121.50" y1="796.55" x2="121.50" y2="801.16" stroke="#000" stroke-width="1.5"/>
<line x1="119.10" y1="796.55" x2="123.90" y2="796.55" stroke="#000" stroke-width="1.6"/>
<line x1="136.50" y1="747.56" x2="136.50" y2="751.45" stroke="#000" stroke-width="1.5"/>
<line x1="134.10" y1="747.56" x2="138.90" y2="747.56" stroke="#000" stroke-width="1.6"/>
<line x1="151.60" y1="711.56" x2="151.60" y2="715.87" stroke="#000" stroke-width="1.5"/>
<line x1="149.20" y1="711.56" x2="154.00" y2="711.56" stroke="#000" stroke-width="1.6"/>
<rect x="113.90" y="801.16" width="15.20" height="23.74" fill="#fff" stroke="#000" stroke-width="1.5"/>
<rect x="128.90" y="751.45" width="15.20" height="73.45" fill="url(#hatch)" stroke="#000" stroke-width="1.5"/>
<rect x="144.00" y="715.87" width="15.20" height="109.03" fill="#000" stroke="#000" stroke-width="1.5"/>
<path d="M121.50,792.05 L121.50,696.00 L151.60,696.00 L151.60,705.06" stroke="#000" stroke-width="1.5" fill="none" stroke-linejoin="round"/>
<polygon points="130.65,685.60 131.47,687.57 133.60,687.74 131.98,689.13 132.47,691.21 130.65,690.10 128.83,691.21 129.32,689.13 127.70,687.74 129.83,687.57" fill="#000"/>
<polygon points="136.55,685.60 137.37,687.57 139.50,687.74 137.88,689.13 138.37,691.21 136.55,690.10 134.73,691.21 135.22,689.13 133.60,687.74 135.73,687.57" fill="#000"/>
<polygon points="142.45,685.60 143.27,687.57 145.40,687.74 143.78,689.13 144.27,691.21 142.45,690.10 140.63,691.21 141.12,689.13 139.50,687.74 141.63,687.57" fill="#000"/>
<text transform="translate(136.70,837.40) scale(1.030,1)" font-size="11.3" text-anchor="middle">+/+;<tspan font-style="italic">Cre</tspan></text>
<line x1="181.70" y1="801.16" x2="181.70" y2="805.95" stroke="#000" stroke-width="1.5"/>
<line x1="179.30" y1="801.16" x2="184.10" y2="801.16" stroke="#000" stroke-width="1.6"/>
<line x1="196.70" y1="736.95" x2="196.70" y2="741.46" stroke="#000" stroke-width="1.5"/>
<line x1="194.30" y1="736.95" x2="199.10" y2="736.95" stroke="#000" stroke-width="1.6"/>
<line x1="211.80" y1="715.87" x2="211.80" y2="722.17" stroke="#000" stroke-width="1.5"/>
<line x1="209.40" y1="715.87" x2="214.20" y2="715.87" stroke="#000" stroke-width="1.6"/>
<rect x="174.10" y="805.95" width="15.20" height="18.95" fill="#fff" stroke="#000" stroke-width="1.5"/>
<rect x="189.10" y="741.46" width="15.20" height="83.44" fill="url(#hatch)" stroke="#000" stroke-width="1.5"/>
<rect x="204.20" y="722.17" width="15.20" height="102.73" fill="#000" stroke="#000" stroke-width="1.5"/>
<path d="M181.70,796.66 L181.70,696.00 L211.80,696.00 L211.80,709.37" stroke="#000" stroke-width="1.5" fill="none" stroke-linejoin="round"/>
<polygon points="190.85,685.60 191.67,687.57 193.80,687.74 192.18,689.13 192.67,691.21 190.85,690.10 189.03,691.21 189.52,689.13 187.90,687.74 190.03,687.57" fill="#000"/>
<polygon points="196.75,685.60 197.57,687.57 199.70,687.74 198.08,689.13 198.57,691.21 196.75,690.10 194.93,691.21 195.42,689.13 193.80,687.74 195.93,687.57" fill="#000"/>
<polygon points="202.65,685.60 203.47,687.57 205.60,687.74 203.98,689.13 204.47,691.21 202.65,690.10 200.83,691.21 201.32,689.13 199.70,687.74 201.83,687.57" fill="#000"/>
<text transform="translate(198.50,837.40) scale(1.050,1)" font-size="11.3" text-anchor="middle"><tspan font-weight="bold">fl</tspan>/+</text>
<line x1="241.90" y1="779.36" x2="241.90" y2="786.49" stroke="#000" stroke-width="1.5"/>
<line x1="239.50" y1="779.36" x2="244.30" y2="779.36" stroke="#000" stroke-width="1.6"/>
<line x1="256.90" y1="759.07" x2="256.90" y2="762.86" stroke="#000" stroke-width="1.5"/>
<line x1="254.50" y1="759.07" x2="259.30" y2="759.07" stroke="#000" stroke-width="1.6"/>
<line x1="272.00" y1="714.07" x2="272.00" y2="720.45" stroke="#000" stroke-width="1.5"/>
<line x1="269.60" y1="714.07" x2="274.40" y2="714.07" stroke="#000" stroke-width="1.6"/>
<rect x="234.30" y="786.49" width="15.20" height="38.41" fill="#fff" stroke="#000" stroke-width="1.5"/>
<rect x="249.30" y="762.86" width="15.20" height="62.04" fill="url(#hatch)" stroke="#000" stroke-width="1.5"/>
<rect x="264.40" y="720.45" width="15.20" height="104.45" fill="#000" stroke="#000" stroke-width="1.5"/>
<path d="M241.90,774.86 L241.90,696.00 L272.00,696.00 L272.00,707.57" stroke="#000" stroke-width="1.5" fill="none" stroke-linejoin="round"/>
<polygon points="251.05,685.60 251.87,687.57 254.00,687.74 252.38,689.13 252.87,691.21 251.05,690.10 249.23,691.21 249.72,689.13 248.10,687.74 250.23,687.57" fill="#000"/>
<polygon points="256.95,685.60 257.77,687.57 259.90,687.74 258.28,689.13 258.77,691.21 256.95,690.10 255.13,691.21 255.62,689.13 254.00,687.74 256.13,687.57" fill="#000"/>
<polygon points="262.85,685.60 263.67,687.57 265.80,687.74 264.18,689.13 264.67,691.21 262.85,690.10 261.03,691.21 261.52,689.13 259.90,687.74 262.03,687.57" fill="#000"/>
<text transform="translate(262.00,837.40) scale(1.070,1)" font-size="11.3" text-anchor="middle"><tspan font-weight="bold">fl</tspan>/+;<tspan font-style="italic">Cre</tspan></text>
<text transform="translate(15.90,757.90) rotate(-90) scale(1.070,1)" font-size="12.5" font-weight="bold" text-anchor="middle">Exploration time (s)</text>
<line x1="368.90" y1="687.00" x2="368.90" y2="828.90" stroke="#000" stroke-width="1.8"/>
<line x1="365.40" y1="825.50" x2="368.90" y2="825.50" stroke="#000" stroke-width="1.5"/>
<text transform="translate(362.10,829.51) scale(1.030,1)" font-size="11.3" text-anchor="end">0</text>
<line x1="365.40" y1="791.10" x2="368.90" y2="791.10" stroke="#000" stroke-width="1.5"/>
<text transform="translate(362.10,795.11) scale(1.030,1)" font-size="11.3" text-anchor="end">100</text>
<line x1="365.40" y1="756.70" x2="368.90" y2="756.70" stroke="#000" stroke-width="1.5"/>
<text transform="translate(362.10,760.71) scale(1.030,1)" font-size="11.3" text-anchor="end">200</text>
<line x1="365.40" y1="722.30" x2="368.90" y2="722.30" stroke="#000" stroke-width="1.5"/>
<text transform="translate(362.10,726.31) scale(1.030,1)" font-size="11.3" text-anchor="end">300</text>
<line x1="365.40" y1="687.90" x2="368.90" y2="687.90" stroke="#000" stroke-width="1.5"/>
<text transform="translate(362.10,691.91) scale(1.030,1)" font-size="11.3" text-anchor="end">400</text>
<line x1="365.40" y1="825.50" x2="610.10" y2="825.50" stroke="#000" stroke-width="1.8"/>
<line x1="368.90" y1="825.50" x2="368.90" y2="828.70" stroke="#000" stroke-width="1.5"/>
<line x1="429.20" y1="825.50" x2="429.20" y2="828.70" stroke="#000" stroke-width="1.5"/>
<line x1="489.50" y1="825.50" x2="489.50" y2="828.70" stroke="#000" stroke-width="1.5"/>
<line x1="549.80" y1="825.50" x2="549.80" y2="828.70" stroke="#000" stroke-width="1.5"/>
<line x1="610.10" y1="825.50" x2="610.10" y2="828.70" stroke="#000" stroke-width="1.5"/>
<line x1="384.20" y1="799.46" x2="384.20" y2="803.93" stroke="#000" stroke-width="1.5"/>
<line x1="381.80" y1="799.46" x2="386.60" y2="799.46" stroke="#000" stroke-width="1.6"/>
<line x1="399.00" y1="745.18" x2="399.00" y2="747.38" stroke="#000" stroke-width="1.5"/>
<line x1="396.60" y1="745.18" x2="401.40" y2="745.18" stroke="#000" stroke-width="1.6"/>
<line x1="414.40" y1="714.87" x2="414.40" y2="720.48" stroke="#000" stroke-width="1.5"/>
<line x1="412.00" y1="714.87" x2="416.80" y2="714.87" stroke="#000" stroke-width="1.6"/>
<rect x="376.60" y="803.93" width="15.20" height="21.57" fill="#fff" stroke="#000" stroke-width="1.5"/>
<rect x="391.40" y="747.38" width="15.20" height="78.12" fill="url(#hatch)" stroke="#000" stroke-width="1.5"/>
<rect x="406.80" y="720.48" width="15.20" height="105.02" fill="#000" stroke="#000" stroke-width="1.5"/>
<path d="M384.20,794.96 L384.20,696.00 L414.40,696.00 L414.40,708.37" stroke="#000" stroke-width="1.5" fill="none" stroke-linejoin="round"/>
<polygon points="393.40,685.60 394.22,687.57 396.35,687.74 394.73,689.13 395.22,691.21 393.40,690.10 391.58,691.21 392.07,689.13 390.45,687.74 392.58,687.57" fill="#000"/>
<polygon points="399.30,685.60 400.12,687.57 402.25,687.74 400.63,689.13 401.12,691.21 399.30,690.10 397.48,691.21 397.97,689.13 396.35,687.74 398.48,687.57" fill="#000"/>
<polygon points="405.20,685.60 406.02,687.57 408.15,687.74 406.53,689.13 407.02,691.21 405.20,690.10 403.38,691.21 403.87,689.13 402.25,687.74 404.38,687.57" fill="#000"/>
<text transform="translate(399.05,837.40) scale(1.030,1)" font-size="11.3" text-anchor="middle">+/+</text>
<line x1="444.50" y1="795.50" x2="444.50" y2="800.32" stroke="#000" stroke-width="1.5"/>
<line x1="442.10" y1="795.50" x2="446.90" y2="795.50" stroke="#000" stroke-width="1.6"/>
<line x1="459.30" y1="747.96" x2="459.30" y2="752.78" stroke="#000" stroke-width="1.5"/>
<line x1="456.90" y1="747.96" x2="461.70" y2="747.96" stroke="#000" stroke-width="1.6"/>
<line x1="474.70" y1="712.05" x2="474.70" y2="719.69" stroke="#000" stroke-width="1.5"/>
<line x1="472.30" y1="712.05" x2="477.10" y2="712.05" stroke="#000" stroke-width="1.6"/>
<rect x="436.90" y="800.32" width="15.20" height="25.18" fill="#fff" stroke="#000" stroke-width="1.5"/>
<rect x="451.70" y="752.78" width="15.20" height="72.72" fill="url(#hatch)" stroke="#000" stroke-width="1.5"/>
<rect x="467.10" y="719.69" width="15.20" height="105.81" fill="#000" stroke="#000" stroke-width="1.5"/>
<path d="M444.50,791.00 L444.50,696.00 L474.70,696.00 L474.70,705.55" stroke="#000" stroke-width="1.5" fill="none" stroke-linejoin="round"/>
<polygon points="453.70,685.60 454.52,687.57 456.65,687.74 455.03,689.13 455.52,691.21 453.70,690.10 451.88,691.21 452.37,689.13 450.75,687.74 452.88,687.57" fill="#000"/>
<polygon points="459.60,685.60 460.42,687.57 462.55,687.74 460.93,689.13 461.42,691.21 459.60,690.10 457.78,691.21 458.27,689.13 456.65,687.74 458.78,687.57" fill="#000"/>
<polygon points="465.50,685.60 466.32,687.57 468.45,687.74 466.83,689.13 467.32,691.21 465.50,690.10 463.68,691.21 464.17,689.13 462.55,687.74 464.68,687.57" fill="#000"/>
<text transform="translate(459.35,837.40) scale(1.030,1)" font-size="11.3" text-anchor="middle">+/+;<tspan font-style="italic">Cre</tspan></text>
<line x1="504.80" y1="800.80" x2="504.80" y2="805.03" stroke="#000" stroke-width="1.5"/>
<line x1="502.40" y1="800.80" x2="507.20" y2="800.80" stroke="#000" stroke-width="1.6"/>
<line x1="519.60" y1="743.46" x2="519.60" y2="747.96" stroke="#000" stroke-width="1.5"/>
<line x1="517.20" y1="743.46" x2="522.00" y2="743.46" stroke="#000" stroke-width="1.6"/>
<line x1="535.00" y1="712.74" x2="535.00" y2="718.24" stroke="#000" stroke-width="1.5"/>
<line x1="532.60" y1="712.74" x2="537.40" y2="712.74" stroke="#000" stroke-width="1.6"/>
<rect x="497.20" y="805.03" width="15.20" height="20.47" fill="#fff" stroke="#000" stroke-width="1.5"/>
<rect x="512.00" y="747.96" width="15.20" height="77.54" fill="url(#hatch)" stroke="#000" stroke-width="1.5"/>
<rect x="527.40" y="718.24" width="15.20" height="107.26" fill="#000" stroke="#000" stroke-width="1.5"/>
<path d="M504.80,796.30 L504.80,696.00 L535.00,696.00 L535.00,706.24" stroke="#000" stroke-width="1.5" fill="none" stroke-linejoin="round"/>
<polygon points="514.00,685.60 514.82,687.57 516.95,687.74 515.33,689.13 515.82,691.21 514.00,690.10 512.18,691.21 512.67,689.13 511.05,687.74 513.18,687.57" fill="#000"/>
<polygon points="519.90,685.60 520.72,687.57 522.85,687.74 521.23,689.13 521.72,691.21 519.90,690.10 518.08,691.21 518.57,689.13 516.95,687.74 519.08,687.57" fill="#000"/>
<polygon points="525.80,685.60 526.62,687.57 528.75,687.74 527.13,689.13 527.62,691.21 525.80,690.10 523.98,691.21 524.47,689.13 522.85,687.74 524.98,687.57" fill="#000"/>
<text transform="translate(521.25,837.40) scale(1.050,1)" font-size="11.3" text-anchor="middle"><tspan font-weight="bold">fl</tspan>/+</text>
<line x1="565.10" y1="773.97" x2="565.10" y2="782.98" stroke="#000" stroke-width="1.5"/>
<line x1="562.70" y1="773.97" x2="567.50" y2="773.97" stroke="#000" stroke-width="1.6"/>
<line x1="579.90" y1="750.58" x2="579.90" y2="753.19" stroke="#000" stroke-width="1.5"/>
<line x1="577.50" y1="750.58" x2="582.30" y2="750.58" stroke="#000" stroke-width="1.6"/>
<line x1="595.30" y1="727.87" x2="595.30" y2="734.41" stroke="#000" stroke-width="1.5"/>
<line x1="592.90" y1="727.87" x2="597.70" y2="727.87" stroke="#000" stroke-width="1.6"/>
<rect x="557.50" y="782.98" width="15.20" height="42.52" fill="#fff" stroke="#000" stroke-width="1.5"/>
<rect x="572.30" y="753.19" width="15.20" height="72.31" fill="url(#hatch)" stroke="#000" stroke-width="1.5"/>
<rect x="587.70" y="734.41" width="15.20" height="91.09" fill="#000" stroke="#000" stroke-width="1.5"/>
<path d="M565.10,769.47 L565.10,696.00 L595.30,696.00 L595.30,721.37" stroke="#000" stroke-width="1.5" fill="none" stroke-linejoin="round"/>
<polygon points="574.30,685.60 575.12,687.57 577.25,687.74 575.63,689.13 576.12,691.21 574.30,690.10 572.48,691.21 572.97,689.13 571.35,687.74 573.48,687.57" fill="#000"/>
<polygon points="580.20,685.60 581.02,687.57 583.15,687.74 581.53,689.13 582.02,691.21 580.20,690.10 578.38,691.21 578.87,689.13 577.25,687.74 579.38,687.57" fill="#000"/>
<polygon points="586.10,685.60 586.92,687.57 589.05,687.74 587.43,689.13 587.92,691.21 586.10,690.10 584.28,691.21 584.77,689.13 583.15,687.74 585.28,687.57" fill="#000"/>
<text transform="translate(584.85,837.40) scale(1.070,1)" font-size="11.3" text-anchor="middle"><tspan font-weight="bold">fl</tspan>/+;<tspan font-style="italic">Cre</tspan></text>
<text transform="translate(335.90,757.90) rotate(-90) scale(1.070,1)" font-size="12.5" font-weight="bold" text-anchor="middle">Exploration time (s)</text>
<rect x="626.20" y="737.60" width="12.60" height="12.90" rx="1.4" fill="#fff" stroke="#000" stroke-width="1.5"/>
<text transform="translate(644.00,748.20)" font-size="11.3">OA</text>
<rect x="626.20" y="756.40" width="12.60" height="12.90" rx="1.4" fill="url(#hatch)" stroke="#000" stroke-width="1.5"/>
<text transform="translate(644.00,767.00)" font-size="11.3">C</text>
<rect x="626.20" y="774.90" width="12.60" height="12.90" rx="1.4" fill="#000" stroke="#000" stroke-width="1.5"/>
<text transform="translate(644.00,785.70)" font-size="11.3">CA</text></g></svg>
</body></html>
